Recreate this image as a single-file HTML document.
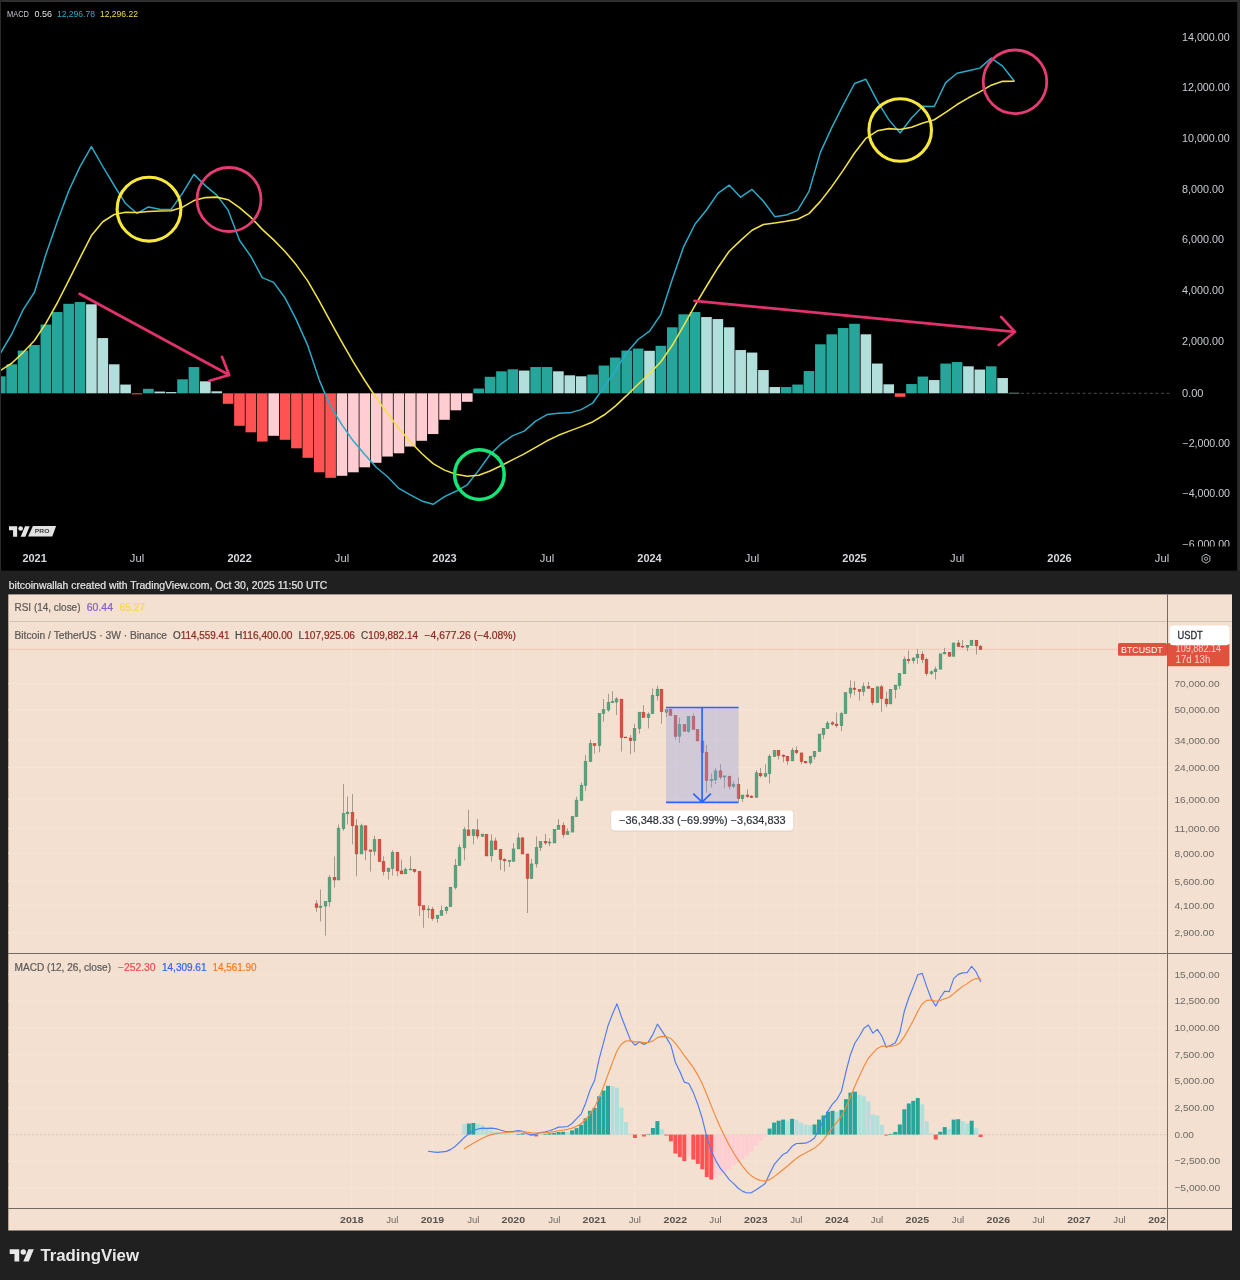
<!DOCTYPE html>
<html><head><meta charset="utf-8"><title>MACD BTC chart</title><style>html,body{margin:0;padding:0;background:#202020}svg{display:block}</style></head><body>
<svg width="1240" height="1280" viewBox="0 0 1240 1280" font-family="'Liberation Sans', sans-serif">
<rect width="1240" height="1280" fill="#202020"/>
<rect x="0" y="0" width="1240" height="2" fill="#2f2f2f"/>
<rect x="1237" y="0" width="3" height="571" fill="#2c2c2c"/>
<rect x="0" y="0" width="1.2" height="571" fill="#2a2a2a"/>
<rect x="1" y="2" width="1236.2" height="568.7" fill="#000"/>
<clipPath id="ct"><rect x="1" y="2" width="1236" height="568.7"/></clipPath>
<g clip-path="url(#ct)">
<rect x="-5.03" y="376.30" width="10.63" height="17.00" fill="#26a69a"/>
<rect x="6.36" y="364.30" width="10.63" height="29.00" fill="#26a69a"/>
<rect x="17.75" y="350.55" width="10.63" height="42.75" fill="#26a69a"/>
<rect x="29.14" y="345.05" width="10.63" height="48.25" fill="#26a69a"/>
<rect x="40.54" y="324.55" width="10.63" height="68.75" fill="#26a69a"/>
<rect x="51.93" y="312.05" width="10.63" height="81.25" fill="#26a69a"/>
<rect x="63.32" y="303.80" width="10.63" height="89.50" fill="#26a69a"/>
<rect x="74.71" y="302.05" width="10.63" height="91.25" fill="#26a69a"/>
<rect x="86.09" y="304.30" width="10.63" height="89.00" fill="#b2dfdb"/>
<rect x="97.49" y="338.05" width="10.63" height="55.25" fill="#b2dfdb"/>
<rect x="108.88" y="364.30" width="10.63" height="29.00" fill="#b2dfdb"/>
<rect x="120.27" y="384.55" width="10.63" height="8.75" fill="#b2dfdb"/>
<rect x="131.66" y="393.30" width="10.63" height="1.00" fill="#ff5252"/>
<rect x="143.04" y="388.80" width="10.63" height="4.50" fill="#26a69a"/>
<rect x="154.44" y="391.55" width="10.63" height="1.75" fill="#b2dfdb"/>
<rect x="165.83" y="392.05" width="10.63" height="1.25" fill="#b2dfdb"/>
<rect x="177.22" y="379.30" width="10.63" height="14.00" fill="#26a69a"/>
<rect x="188.60" y="367.05" width="10.63" height="26.25" fill="#26a69a"/>
<rect x="200.00" y="381.30" width="10.63" height="12.00" fill="#b2dfdb"/>
<rect x="211.39" y="391.30" width="10.63" height="2.00" fill="#b2dfdb"/>
<rect x="222.78" y="393.30" width="10.63" height="10.50" fill="#ff5252"/>
<rect x="234.16" y="393.30" width="10.63" height="32.50" fill="#ff5252"/>
<rect x="245.56" y="393.30" width="10.63" height="39.00" fill="#ff5252"/>
<rect x="256.95" y="393.30" width="10.63" height="48.25" fill="#ff5252"/>
<rect x="268.34" y="393.30" width="10.63" height="42.50" fill="#ffcdd2"/>
<rect x="279.73" y="393.30" width="10.63" height="46.50" fill="#ff5252"/>
<rect x="291.12" y="393.30" width="10.63" height="55.00" fill="#ff5252"/>
<rect x="302.51" y="393.30" width="10.63" height="64.50" fill="#ff5252"/>
<rect x="313.90" y="393.30" width="10.63" height="79.00" fill="#ff5252"/>
<rect x="325.29" y="393.30" width="10.63" height="84.50" fill="#ff5252"/>
<rect x="336.68" y="393.30" width="10.63" height="82.50" fill="#ffcdd2"/>
<rect x="348.07" y="393.30" width="10.63" height="79.00" fill="#ffcdd2"/>
<rect x="359.46" y="393.30" width="10.63" height="74.00" fill="#ffcdd2"/>
<rect x="370.85" y="393.30" width="10.63" height="69.50" fill="#ffcdd2"/>
<rect x="382.24" y="393.30" width="10.63" height="63.25" fill="#ffcdd2"/>
<rect x="393.63" y="393.30" width="10.63" height="60.00" fill="#ffcdd2"/>
<rect x="405.02" y="393.30" width="10.63" height="53.25" fill="#ffcdd2"/>
<rect x="416.41" y="393.30" width="10.63" height="47.50" fill="#ffcdd2"/>
<rect x="427.80" y="393.30" width="10.63" height="40.75" fill="#ffcdd2"/>
<rect x="439.19" y="393.30" width="10.63" height="26.50" fill="#ffcdd2"/>
<rect x="450.58" y="393.30" width="10.63" height="17.00" fill="#ffcdd2"/>
<rect x="461.97" y="393.30" width="10.63" height="8.50" fill="#ffcdd2"/>
<rect x="473.36" y="388.55" width="10.63" height="4.75" fill="#26a69a"/>
<rect x="484.75" y="376.80" width="10.63" height="16.50" fill="#26a69a"/>
<rect x="496.14" y="371.30" width="10.63" height="22.00" fill="#26a69a"/>
<rect x="507.53" y="369.30" width="10.63" height="24.00" fill="#26a69a"/>
<rect x="518.91" y="370.55" width="10.63" height="22.75" fill="#b2dfdb"/>
<rect x="530.30" y="367.05" width="10.63" height="26.25" fill="#26a69a"/>
<rect x="541.69" y="367.05" width="10.63" height="26.25" fill="#26a69a"/>
<rect x="553.08" y="371.30" width="10.63" height="22.00" fill="#b2dfdb"/>
<rect x="564.47" y="375.30" width="10.63" height="18.00" fill="#b2dfdb"/>
<rect x="575.86" y="376.30" width="10.63" height="17.00" fill="#b2dfdb"/>
<rect x="587.25" y="374.55" width="10.63" height="18.75" fill="#26a69a"/>
<rect x="598.64" y="365.55" width="10.63" height="27.75" fill="#26a69a"/>
<rect x="610.03" y="357.55" width="10.63" height="35.75" fill="#26a69a"/>
<rect x="621.42" y="350.55" width="10.63" height="42.75" fill="#26a69a"/>
<rect x="632.81" y="348.55" width="10.63" height="44.75" fill="#26a69a"/>
<rect x="644.20" y="350.80" width="10.63" height="42.50" fill="#b2dfdb"/>
<rect x="655.59" y="345.80" width="10.63" height="47.50" fill="#26a69a"/>
<rect x="666.98" y="327.30" width="10.63" height="66.00" fill="#26a69a"/>
<rect x="678.38" y="314.30" width="10.63" height="79.00" fill="#26a69a"/>
<rect x="689.76" y="312.05" width="10.63" height="81.25" fill="#26a69a"/>
<rect x="701.15" y="317.05" width="10.63" height="76.25" fill="#b2dfdb"/>
<rect x="712.54" y="319.05" width="10.63" height="74.25" fill="#b2dfdb"/>
<rect x="723.93" y="327.30" width="10.63" height="66.00" fill="#b2dfdb"/>
<rect x="735.32" y="350.05" width="10.63" height="43.25" fill="#b2dfdb"/>
<rect x="746.71" y="352.55" width="10.63" height="40.75" fill="#b2dfdb"/>
<rect x="758.10" y="370.05" width="10.63" height="23.25" fill="#b2dfdb"/>
<rect x="769.49" y="387.05" width="10.63" height="6.25" fill="#b2dfdb"/>
<rect x="780.88" y="387.05" width="10.63" height="6.25" fill="#26a69a"/>
<rect x="792.27" y="384.55" width="10.63" height="8.75" fill="#26a69a"/>
<rect x="803.66" y="371.05" width="10.63" height="22.25" fill="#26a69a"/>
<rect x="815.05" y="344.30" width="10.63" height="49.00" fill="#26a69a"/>
<rect x="826.44" y="334.30" width="10.63" height="59.00" fill="#26a69a"/>
<rect x="837.83" y="328.05" width="10.63" height="65.25" fill="#26a69a"/>
<rect x="849.22" y="323.80" width="10.63" height="69.50" fill="#26a69a"/>
<rect x="860.62" y="334.30" width="10.63" height="59.00" fill="#b2dfdb"/>
<rect x="872.00" y="363.55" width="10.63" height="29.75" fill="#b2dfdb"/>
<rect x="883.39" y="384.30" width="10.63" height="9.00" fill="#b2dfdb"/>
<rect x="894.78" y="393.30" width="10.63" height="3.50" fill="#ff5252"/>
<rect x="906.17" y="384.05" width="10.63" height="9.25" fill="#26a69a"/>
<rect x="917.56" y="376.55" width="10.63" height="16.75" fill="#26a69a"/>
<rect x="928.95" y="380.05" width="10.63" height="13.25" fill="#b2dfdb"/>
<rect x="940.34" y="363.55" width="10.63" height="29.75" fill="#26a69a"/>
<rect x="951.73" y="362.05" width="10.63" height="31.25" fill="#26a69a"/>
<rect x="963.12" y="366.30" width="10.63" height="27.00" fill="#b2dfdb"/>
<rect x="974.51" y="369.55" width="10.63" height="23.75" fill="#b2dfdb"/>
<rect x="985.90" y="366.30" width="10.63" height="27.00" fill="#26a69a"/>
<rect x="997.29" y="378.05" width="10.63" height="15.25" fill="#b2dfdb"/>
<rect x="1008.68" y="392.80" width="10.63" height="0.60" fill="#b2dfdb"/>
<line x1="1021" y1="393.3" x2="1172" y2="393.3" stroke="#4a4a4a" stroke-width="1" stroke-dasharray="3 2.6"/>
<polyline points="0.29,353.50 11.68,334.25 23.07,309.81 34.46,292.25 45.85,254.56 57.24,221.75 68.63,191.12 80.02,166.56 91.41,146.56 102.80,166.50 114.19,185.50 125.58,203.56 136.97,213.56 148.36,206.94 159.75,209.25 171.14,209.44 182.53,193.19 193.92,174.38 205.31,185.62 216.70,195.12 228.09,210.17 239.48,240.21 250.87,256.38 262.26,277.61 273.65,282.40 285.04,297.95 296.43,320.11 307.82,345.66 319.21,379.83 330.60,406.37 341.99,424.91 353.38,441.08 364.77,454.50 376.16,467.29 387.55,476.77 398.94,488.44 410.33,494.92 421.72,500.96 433.11,504.32 444.50,496.61 455.89,491.28 467.28,484.82 478.67,470.40 490.06,454.55 501.45,443.56 512.84,435.58 524.23,431.16 535.62,421.11 547.01,414.57 558.40,413.33 569.79,412.85 581.18,409.62 592.57,403.20 603.96,387.27 615.35,370.35 626.74,352.68 638.13,339.51 649.52,331.15 660.91,314.30 672.30,279.31 683.69,246.58 695.08,224.03 706.47,209.99 717.86,193.44 729.25,185.21 740.64,197.16 752.03,189.49 763.42,201.20 774.81,216.65 786.20,215.10 797.59,210.43 808.98,191.39 820.37,152.40 831.76,127.67 843.15,105.12 854.54,83.52 865.93,79.28 877.32,101.11 888.71,119.63 900.10,133.02 911.49,117.98 922.88,106.30 934.27,106.51 945.66,82.59 957.05,73.29 968.44,70.81 979.83,68.14 991.22,58.15 1002.61,66.11 1014.00,80.75" fill="none" stroke="#2aaac8" stroke-width="1.5" stroke-linejoin="round" stroke-linecap="round" />
<polyline points="0.29,370.50 11.68,363.25 23.07,352.56 34.46,340.50 45.85,323.31 57.24,303.00 68.63,280.62 80.02,257.81 91.41,235.56 102.80,221.75 114.19,214.50 125.58,212.31 136.97,212.56 148.36,211.44 159.75,211.00 171.14,210.69 182.53,207.19 193.92,200.62 205.31,197.62 216.70,197.12 228.09,199.67 239.48,207.71 250.87,217.38 262.26,229.36 273.65,239.90 285.04,251.45 296.43,265.11 307.82,281.16 319.21,300.83 330.60,321.87 341.99,342.41 353.38,362.08 364.77,380.50 376.16,397.79 387.55,413.52 398.94,428.44 410.33,441.67 421.72,453.46 433.11,463.57 444.50,470.11 455.89,474.28 467.28,476.32 478.67,475.15 490.06,471.05 501.45,465.56 512.84,459.58 524.23,453.91 535.62,447.36 547.01,440.82 558.40,435.33 569.79,430.85 581.18,426.62 592.57,421.95 603.96,415.02 615.35,406.10 626.74,395.43 638.13,384.26 649.52,373.65 660.91,361.80 672.30,345.31 683.69,325.58 695.08,305.28 706.47,286.24 717.86,267.69 729.25,251.21 740.64,240.41 752.03,230.24 763.42,224.45 774.81,222.90 786.20,221.35 797.59,219.18 808.98,213.64 820.37,201.40 831.76,186.67 843.15,170.38 854.54,153.02 865.93,138.28 877.32,130.86 888.71,128.63 900.10,129.52 911.49,127.23 922.88,123.05 934.27,119.76 945.66,112.34 957.05,104.54 968.44,97.81 979.83,91.89 991.22,85.15 1002.61,81.36 1014.00,81.25" fill="none" stroke="#f0e146" stroke-width="1.55" stroke-linejoin="round" stroke-linecap="round" />
<circle cx="149" cy="209.2" r="31.9" fill="none" stroke="#f8e83c" stroke-width="3.1"/>
<circle cx="229" cy="199.5" r="32" fill="none" stroke="#e43c73" stroke-width="2.8"/>
<circle cx="479.4" cy="474.6" r="24.8" fill="none" stroke="#14e678" stroke-width="3.5"/>
<circle cx="900.2" cy="130" r="31.3" fill="none" stroke="#f8e83c" stroke-width="3.1"/>
<circle cx="1015" cy="81.8" r="31.8" fill="none" stroke="#e43c73" stroke-width="2.8"/>
<g fill="none" stroke="#e1326e" stroke-width="2.7" stroke-linecap="round" stroke-linejoin="round">
<path d="M79.5 293.8 L229.2 375 M222 356.8 L229.2 375 L209.5 380.8"/>
<path d="M694.5 300.8 L1015 331.8 M1001.2 317 L1015 331.8 L998.8 345"/>
</g>
</g>
<text x="7.00" y="16.60" font-size="8.6" fill="#c9ccd3" textLength="22.0" lengthAdjust="spacingAndGlyphs" >MACD</text>
<text x="34.50" y="16.60" font-size="8.6" fill="#dfe3e6" textLength="17.5" lengthAdjust="spacingAndGlyphs" >0.56</text>
<text x="57.00" y="16.60" font-size="8.6" fill="#2aaecb" textLength="38.0" lengthAdjust="spacingAndGlyphs" >12,296.78</text>
<text x="100.00" y="16.60" font-size="8.6" fill="#f2de4a" textLength="38.0" lengthAdjust="spacingAndGlyphs" >12,296.22</text>
<text x="1182.00" y="40.70" font-size="10" fill="#c9ccd3" textLength="47.7" lengthAdjust="spacingAndGlyphs" >14,000.00</text>
<text x="1182.00" y="91.40" font-size="10" fill="#c9ccd3" textLength="47.7" lengthAdjust="spacingAndGlyphs" >12,000.00</text>
<text x="1182.00" y="142.40" font-size="10" fill="#c9ccd3" textLength="47.7" lengthAdjust="spacingAndGlyphs" >10,000.00</text>
<text x="1182.00" y="192.80" font-size="10" fill="#c9ccd3" textLength="42.0" lengthAdjust="spacingAndGlyphs" >8,000.00</text>
<text x="1182.00" y="243.40" font-size="10" fill="#c9ccd3" textLength="42.0" lengthAdjust="spacingAndGlyphs" >6,000.00</text>
<text x="1182.00" y="294.20" font-size="10" fill="#c9ccd3" textLength="42.0" lengthAdjust="spacingAndGlyphs" >4,000.00</text>
<text x="1182.00" y="345.00" font-size="10" fill="#c9ccd3" textLength="42.0" lengthAdjust="spacingAndGlyphs" >2,000.00</text>
<text x="1182.00" y="396.90" font-size="10" fill="#c9ccd3" textLength="21.5" lengthAdjust="spacingAndGlyphs" >0.00</text>
<text x="1182.50" y="446.60" font-size="10" fill="#c9ccd3" textLength="47.5" lengthAdjust="spacingAndGlyphs" >−2,000.00</text>
<text x="1182.50" y="496.90" font-size="10" fill="#c9ccd3" textLength="47.5" lengthAdjust="spacingAndGlyphs" >−4,000.00</text>
<clipPath id="c6"><rect x="1170" y="530" width="66" height="16.6"/></clipPath>
<g clip-path="url(#c6)">
<text x="1182.50" y="547.50" font-size="10" fill="#c9ccd3" textLength="47.5" lengthAdjust="spacingAndGlyphs" >−6,000.00</text>
</g>
<text x="34.60" y="561.90" font-size="10.0" fill="#d6d8de" font-weight="bold" text-anchor="middle" textLength="24.4" lengthAdjust="spacingAndGlyphs" >2021</text>
<text x="137.00" y="561.80" font-size="10.4" fill="#c9ccd3" text-anchor="middle" textLength="14.3" lengthAdjust="spacingAndGlyphs" >Jul</text>
<text x="239.60" y="561.90" font-size="10.0" fill="#d6d8de" font-weight="bold" text-anchor="middle" textLength="24.4" lengthAdjust="spacingAndGlyphs" >2022</text>
<text x="342.00" y="561.80" font-size="10.4" fill="#c9ccd3" text-anchor="middle" textLength="14.3" lengthAdjust="spacingAndGlyphs" >Jul</text>
<text x="444.50" y="561.90" font-size="10.0" fill="#d6d8de" font-weight="bold" text-anchor="middle" textLength="24.4" lengthAdjust="spacingAndGlyphs" >2023</text>
<text x="547.00" y="561.80" font-size="10.4" fill="#c9ccd3" text-anchor="middle" textLength="14.3" lengthAdjust="spacingAndGlyphs" >Jul</text>
<text x="649.50" y="561.90" font-size="10.0" fill="#d6d8de" font-weight="bold" text-anchor="middle" textLength="24.4" lengthAdjust="spacingAndGlyphs" >2024</text>
<text x="752.00" y="561.80" font-size="10.4" fill="#c9ccd3" text-anchor="middle" textLength="14.3" lengthAdjust="spacingAndGlyphs" >Jul</text>
<text x="854.50" y="561.90" font-size="10.0" fill="#d6d8de" font-weight="bold" text-anchor="middle" textLength="24.4" lengthAdjust="spacingAndGlyphs" >2025</text>
<text x="957.20" y="561.80" font-size="10.4" fill="#c9ccd3" text-anchor="middle" textLength="14.3" lengthAdjust="spacingAndGlyphs" >Jul</text>
<text x="1059.50" y="561.90" font-size="10.0" fill="#d6d8de" font-weight="bold" text-anchor="middle" textLength="24.4" lengthAdjust="spacingAndGlyphs" >2026</text>
<text x="1162.00" y="561.80" font-size="10.4" fill="#c9ccd3" text-anchor="middle" textLength="14.3" lengthAdjust="spacingAndGlyphs" >Jul</text>
<g fill="none" stroke="#b4b7be" stroke-width="0.95"><path d="M1206 554.2 L1209.9 556.45 L1209.9 560.95 L1206 563.2 L1202.1 560.95 L1202.1 556.45 Z" stroke-linejoin="round"/><circle cx="1206" cy="558.7" r="1.6"/></g>
<g transform="translate(9,523.8) scale(0.583)" fill="#e6e6e6"><path d="M14 22H7V11H0V4h14v18zM28 22h-8l7.5-18h8L28 22z"/><circle cx="20" cy="8" r="4"/></g>
<path d="M32.9 526.1 H56.1 L52.3 536.6 H28.1 Z" fill="#e1e1e1"/>
<text x="34.80" y="533.45" font-size="5.9" fill="#3c3c3c" font-weight="bold" textLength="14.6" lengthAdjust="spacingAndGlyphs" >PRO</text>
<text x="8.80" y="588.60" font-size="10.2" fill="#e6e6e6" textLength="318.5" lengthAdjust="spacingAndGlyphs" stroke="#e6e6e6" stroke-width="0.2">bitcoinwallah created with TradingView.com, Oct 30, 2025 11:50 UTC</text>
<rect x="8.3" y="594.4" width="1223.7" height="636.1" fill="#f3e0d0"/>
<line x1="351.8" y1="622" x2="351.8" y2="1208" stroke="#f5e4d6" stroke-width="1"/>
<line x1="392.3" y1="622" x2="392.3" y2="1208" stroke="#f5e4d6" stroke-width="1"/>
<line x1="432.5" y1="622" x2="432.5" y2="1208" stroke="#f5e4d6" stroke-width="1"/>
<line x1="473.3" y1="622" x2="473.3" y2="1208" stroke="#f5e4d6" stroke-width="1"/>
<line x1="513.3" y1="622" x2="513.3" y2="1208" stroke="#f5e4d6" stroke-width="1"/>
<line x1="554.3" y1="622" x2="554.3" y2="1208" stroke="#f5e4d6" stroke-width="1"/>
<line x1="594.3" y1="622" x2="594.3" y2="1208" stroke="#f5e4d6" stroke-width="1"/>
<line x1="634.8" y1="622" x2="634.8" y2="1208" stroke="#f5e4d6" stroke-width="1"/>
<line x1="675.3" y1="622" x2="675.3" y2="1208" stroke="#f5e4d6" stroke-width="1"/>
<line x1="715.5" y1="622" x2="715.5" y2="1208" stroke="#f5e4d6" stroke-width="1"/>
<line x1="755.8" y1="622" x2="755.8" y2="1208" stroke="#f5e4d6" stroke-width="1"/>
<line x1="796.3" y1="622" x2="796.3" y2="1208" stroke="#f5e4d6" stroke-width="1"/>
<line x1="836.8" y1="622" x2="836.8" y2="1208" stroke="#f5e4d6" stroke-width="1"/>
<line x1="877" y1="622" x2="877" y2="1208" stroke="#f5e4d6" stroke-width="1"/>
<line x1="917.3" y1="622" x2="917.3" y2="1208" stroke="#f5e4d6" stroke-width="1"/>
<line x1="958" y1="622" x2="958" y2="1208" stroke="#f5e4d6" stroke-width="1"/>
<line x1="998.3" y1="622" x2="998.3" y2="1208" stroke="#f5e4d6" stroke-width="1"/>
<line x1="1038.5" y1="622" x2="1038.5" y2="1208" stroke="#f5e4d6" stroke-width="1"/>
<line x1="1079" y1="622" x2="1079" y2="1208" stroke="#f5e4d6" stroke-width="1"/>
<line x1="1119.5" y1="622" x2="1119.5" y2="1208" stroke="#f5e4d6" stroke-width="1"/>
<line x1="1159.5" y1="622" x2="1159.5" y2="1208" stroke="#f5e4d6" stroke-width="1"/>
<line x1="8.3" y1="683.7" x2="1167.5" y2="683.7" stroke="#f5e4d6" stroke-width="1"/>
<line x1="8.3" y1="710.0" x2="1167.5" y2="710.0" stroke="#f5e4d6" stroke-width="1"/>
<line x1="8.3" y1="740.2" x2="1167.5" y2="740.2" stroke="#f5e4d6" stroke-width="1"/>
<line x1="8.3" y1="767.4" x2="1167.5" y2="767.4" stroke="#f5e4d6" stroke-width="1"/>
<line x1="8.3" y1="799.1" x2="1167.5" y2="799.1" stroke="#f5e4d6" stroke-width="1"/>
<line x1="8.3" y1="828.4" x2="1167.5" y2="828.4" stroke="#f5e4d6" stroke-width="1"/>
<line x1="8.3" y1="853.3" x2="1167.5" y2="853.3" stroke="#f5e4d6" stroke-width="1"/>
<line x1="8.3" y1="881.2" x2="1167.5" y2="881.2" stroke="#f5e4d6" stroke-width="1"/>
<line x1="8.3" y1="905.6" x2="1167.5" y2="905.6" stroke="#f5e4d6" stroke-width="1"/>
<line x1="8.3" y1="932.7" x2="1167.5" y2="932.7" stroke="#f5e4d6" stroke-width="1"/>
<line x1="8.3" y1="974.4" x2="1167.5" y2="974.4" stroke="#f5e4d6" stroke-width="1"/>
<line x1="8.3" y1="1001.1" x2="1167.5" y2="1001.1" stroke="#f5e4d6" stroke-width="1"/>
<line x1="8.3" y1="1027.8" x2="1167.5" y2="1027.8" stroke="#f5e4d6" stroke-width="1"/>
<line x1="8.3" y1="1054.5" x2="1167.5" y2="1054.5" stroke="#f5e4d6" stroke-width="1"/>
<line x1="8.3" y1="1081.2" x2="1167.5" y2="1081.2" stroke="#f5e4d6" stroke-width="1"/>
<line x1="8.3" y1="1107.9" x2="1167.5" y2="1107.9" stroke="#f5e4d6" stroke-width="1"/>
<line x1="8.3" y1="1161.3" x2="1167.5" y2="1161.3" stroke="#f5e4d6" stroke-width="1"/>
<line x1="8.3" y1="1188.0" x2="1167.5" y2="1188.0" stroke="#f5e4d6" stroke-width="1"/>
<line x1="8.3" y1="621.5" x2="1232" y2="621.5" stroke="#c9bfb7" stroke-width="0.9"/>
<line x1="8.3" y1="953.5" x2="1232" y2="953.5" stroke="#736a64" stroke-width="1"/>
<line x1="8.3" y1="1208.5" x2="1232" y2="1208.5" stroke="#736a64" stroke-width="1"/>
<line x1="1167.5" y1="594.4" x2="1167.5" y2="1230.5" stroke="#736a64" stroke-width="1"/>
<line x1="8.3" y1="649.3" x2="1118" y2="649.3" stroke="#e8796a" stroke-width="0.7" stroke-opacity="0.75" stroke-dasharray="1 1"/>
<line x1="316.50" y1="900.15" x2="316.50" y2="911.83" stroke="#5c5853" stroke-width="0.62" stroke-opacity="0.85"/>
<rect x="315.10" y="903.86" width="2.8" height="3.59" fill="#d8503f" stroke="#b23a2c" stroke-width="0.45"/>
<line x1="320.50" y1="889.52" x2="320.50" y2="921.39" stroke="#5c5853" stroke-width="0.62" stroke-opacity="0.85"/>
<rect x="319.10" y="906.12" width="2.8" height="1.33" fill="#58a37f" stroke="#3d8a66" stroke-width="0.45"/>
<line x1="325.50" y1="901.47" x2="325.50" y2="935.74" stroke="#5c5853" stroke-width="0.62" stroke-opacity="0.85"/>
<rect x="324.10" y="901.47" width="2.8" height="4.65" fill="#58a37f" stroke="#3d8a66" stroke-width="0.45"/>
<line x1="329.50" y1="874.91" x2="329.50" y2="906.79" stroke="#5c5853" stroke-width="0.62" stroke-opacity="0.85"/>
<rect x="328.10" y="877.57" width="2.8" height="24.30" fill="#58a37f" stroke="#3d8a66" stroke-width="0.45"/>
<line x1="334.50" y1="856.32" x2="334.50" y2="887.53" stroke="#5c5853" stroke-width="0.62" stroke-opacity="0.85"/>
<rect x="333.10" y="877.30" width="2.8" height="2.66" fill="#d8503f" stroke="#b23a2c" stroke-width="0.45"/>
<line x1="338.50" y1="824.45" x2="338.50" y2="879.96" stroke="#5c5853" stroke-width="0.62" stroke-opacity="0.85"/>
<rect x="337.10" y="828.17" width="2.8" height="51.79" fill="#58a37f" stroke="#3d8a66" stroke-width="0.45"/>
<line x1="343.50" y1="783.94" x2="343.50" y2="830.82" stroke="#5c5853" stroke-width="0.62" stroke-opacity="0.85"/>
<rect x="342.10" y="813.56" width="2.8" height="15.14" fill="#58a37f" stroke="#3d8a66" stroke-width="0.45"/>
<line x1="347.50" y1="796.56" x2="347.50" y2="824.45" stroke="#5c5853" stroke-width="0.62" stroke-opacity="0.85"/>
<rect x="346.10" y="812.10" width="2.8" height="1.73" fill="#58a37f" stroke="#3d8a66" stroke-width="0.45"/>
<line x1="352.50" y1="793.90" x2="352.50" y2="844.37" stroke="#5c5853" stroke-width="0.62" stroke-opacity="0.85"/>
<rect x="351.10" y="812.23" width="2.8" height="13.55" fill="#d8503f" stroke="#b23a2c" stroke-width="0.45"/>
<line x1="356.50" y1="819.14" x2="356.50" y2="876.24" stroke="#5c5853" stroke-width="0.62" stroke-opacity="0.85"/>
<rect x="355.10" y="825.78" width="2.8" height="28.15" fill="#d8503f" stroke="#b23a2c" stroke-width="0.45"/>
<line x1="361.50" y1="823.78" x2="361.50" y2="853.93" stroke="#5c5853" stroke-width="0.62" stroke-opacity="0.85"/>
<rect x="360.10" y="825.78" width="2.8" height="28.15" fill="#58a37f" stroke="#3d8a66" stroke-width="0.45"/>
<line x1="365.50" y1="825.78" x2="365.50" y2="860.31" stroke="#5c5853" stroke-width="0.62" stroke-opacity="0.85"/>
<rect x="364.10" y="825.78" width="2.8" height="24.30" fill="#d8503f" stroke="#b23a2c" stroke-width="0.45"/>
<line x1="370.50" y1="849.95" x2="370.50" y2="871.59" stroke="#5c5853" stroke-width="0.62" stroke-opacity="0.85"/>
<rect x="369.10" y="849.95" width="2.8" height="1.33" fill="#d8503f" stroke="#b23a2c" stroke-width="0.45"/>
<line x1="374.50" y1="835.74" x2="374.50" y2="855.66" stroke="#5c5853" stroke-width="0.62" stroke-opacity="0.85"/>
<rect x="373.10" y="839.72" width="2.8" height="11.55" fill="#58a37f" stroke="#3d8a66" stroke-width="0.45"/>
<line x1="379.50" y1="839.32" x2="379.50" y2="861.63" stroke="#5c5853" stroke-width="0.62" stroke-opacity="0.85"/>
<rect x="378.10" y="839.32" width="2.8" height="22.31" fill="#d8503f" stroke="#b23a2c" stroke-width="0.45"/>
<line x1="383.50" y1="856.32" x2="383.50" y2="875.58" stroke="#5c5853" stroke-width="0.62" stroke-opacity="0.85"/>
<rect x="382.10" y="861.37" width="2.8" height="10.23" fill="#d8503f" stroke="#b23a2c" stroke-width="0.45"/>
<line x1="388.50" y1="867.61" x2="388.50" y2="879.56" stroke="#5c5853" stroke-width="0.62" stroke-opacity="0.85"/>
<rect x="387.10" y="868.27" width="2.8" height="3.32" fill="#58a37f" stroke="#3d8a66" stroke-width="0.45"/>
<line x1="392.50" y1="850.08" x2="392.50" y2="875.58" stroke="#5c5853" stroke-width="0.62" stroke-opacity="0.85"/>
<rect x="391.10" y="852.34" width="2.8" height="16.20" fill="#58a37f" stroke="#3d8a66" stroke-width="0.45"/>
<line x1="397.50" y1="852.34" x2="397.50" y2="876.24" stroke="#5c5853" stroke-width="0.62" stroke-opacity="0.85"/>
<rect x="396.10" y="852.34" width="2.8" height="18.59" fill="#d8503f" stroke="#b23a2c" stroke-width="0.45"/>
<line x1="401.50" y1="859.64" x2="401.50" y2="874.25" stroke="#5c5853" stroke-width="0.62" stroke-opacity="0.85"/>
<rect x="400.10" y="870.93" width="2.8" height="2.92" fill="#d8503f" stroke="#b23a2c" stroke-width="0.45"/>
<line x1="405.50" y1="867.61" x2="405.50" y2="873.85" stroke="#5c5853" stroke-width="0.62" stroke-opacity="0.85"/>
<rect x="404.10" y="869.20" width="2.8" height="4.65" fill="#58a37f" stroke="#3d8a66" stroke-width="0.45"/>
<line x1="410.50" y1="856.32" x2="410.50" y2="869.60" stroke="#5c5853" stroke-width="0.62" stroke-opacity="0.85"/>
<rect x="409.10" y="869.07" width="2.8" height="0.90" fill="#58a37f" stroke="#3d8a66" stroke-width="0.45"/>
<line x1="414.50" y1="868.94" x2="414.50" y2="872.92" stroke="#5c5853" stroke-width="0.62" stroke-opacity="0.85"/>
<rect x="413.10" y="869.34" width="2.8" height="2.26" fill="#d8503f" stroke="#b23a2c" stroke-width="0.45"/>
<line x1="419.50" y1="871.33" x2="419.50" y2="916.08" stroke="#5c5853" stroke-width="0.62" stroke-opacity="0.85"/>
<rect x="418.10" y="871.33" width="2.8" height="34.40" fill="#d8503f" stroke="#b23a2c" stroke-width="0.45"/>
<line x1="423.50" y1="905.72" x2="423.50" y2="927.77" stroke="#5c5853" stroke-width="0.62" stroke-opacity="0.85"/>
<rect x="422.10" y="905.72" width="2.8" height="4.12" fill="#d8503f" stroke="#b23a2c" stroke-width="0.45"/>
<line x1="428.50" y1="905.46" x2="428.50" y2="918.07" stroke="#5c5853" stroke-width="0.62" stroke-opacity="0.85"/>
<rect x="427.10" y="909.04" width="2.8" height="0.90" fill="#58a37f" stroke="#3d8a66" stroke-width="0.45"/>
<line x1="432.50" y1="906.79" x2="432.50" y2="920.73" stroke="#5c5853" stroke-width="0.62" stroke-opacity="0.85"/>
<rect x="431.10" y="909.18" width="2.8" height="9.30" fill="#d8503f" stroke="#b23a2c" stroke-width="0.45"/>
<line x1="437.50" y1="915.15" x2="437.50" y2="922.72" stroke="#5c5853" stroke-width="0.62" stroke-opacity="0.85"/>
<rect x="436.10" y="915.15" width="2.8" height="3.32" fill="#58a37f" stroke="#3d8a66" stroke-width="0.45"/>
<line x1="441.50" y1="905.46" x2="441.50" y2="915.42" stroke="#5c5853" stroke-width="0.62" stroke-opacity="0.85"/>
<rect x="440.10" y="910.50" width="2.8" height="4.91" fill="#58a37f" stroke="#3d8a66" stroke-width="0.45"/>
<line x1="446.50" y1="906.12" x2="446.50" y2="914.09" stroke="#5c5853" stroke-width="0.62" stroke-opacity="0.85"/>
<rect x="445.10" y="907.18" width="2.8" height="3.59" fill="#58a37f" stroke="#3d8a66" stroke-width="0.45"/>
<line x1="450.50" y1="887.18" x2="450.50" y2="906.71" stroke="#5c5853" stroke-width="0.62" stroke-opacity="0.85"/>
<rect x="449.10" y="887.18" width="2.8" height="19.52" fill="#58a37f" stroke="#3d8a66" stroke-width="0.45"/>
<line x1="455.50" y1="858.90" x2="455.50" y2="889.44" stroke="#5c5853" stroke-width="0.62" stroke-opacity="0.85"/>
<rect x="454.10" y="865.27" width="2.8" height="22.18" fill="#58a37f" stroke="#3d8a66" stroke-width="0.45"/>
<line x1="459.50" y1="844.29" x2="459.50" y2="865.54" stroke="#5c5853" stroke-width="0.62" stroke-opacity="0.85"/>
<rect x="458.10" y="847.61" width="2.8" height="17.93" fill="#58a37f" stroke="#3d8a66" stroke-width="0.45"/>
<line x1="464.50" y1="826.76" x2="464.50" y2="860.23" stroke="#5c5853" stroke-width="0.62" stroke-opacity="0.85"/>
<rect x="463.10" y="829.68" width="2.8" height="18.19" fill="#58a37f" stroke="#3d8a66" stroke-width="0.45"/>
<line x1="468.50" y1="809.76" x2="468.50" y2="835.66" stroke="#5c5853" stroke-width="0.62" stroke-opacity="0.85"/>
<rect x="467.10" y="829.95" width="2.8" height="5.71" fill="#d8503f" stroke="#b23a2c" stroke-width="0.45"/>
<line x1="473.50" y1="829.68" x2="473.50" y2="844.29" stroke="#5c5853" stroke-width="0.62" stroke-opacity="0.85"/>
<rect x="472.10" y="829.68" width="2.8" height="5.98" fill="#58a37f" stroke="#3d8a66" stroke-width="0.45"/>
<line x1="477.50" y1="819.06" x2="477.50" y2="838.98" stroke="#5c5853" stroke-width="0.62" stroke-opacity="0.85"/>
<rect x="476.10" y="829.95" width="2.8" height="6.11" fill="#d8503f" stroke="#b23a2c" stroke-width="0.45"/>
<line x1="482.50" y1="834.06" x2="482.50" y2="836.99" stroke="#5c5853" stroke-width="0.62" stroke-opacity="0.85"/>
<rect x="481.10" y="834.06" width="2.8" height="2.26" fill="#58a37f" stroke="#3d8a66" stroke-width="0.45"/>
<line x1="486.50" y1="834.33" x2="486.50" y2="855.98" stroke="#5c5853" stroke-width="0.62" stroke-opacity="0.85"/>
<rect x="485.10" y="834.33" width="2.8" height="21.65" fill="#d8503f" stroke="#b23a2c" stroke-width="0.45"/>
<line x1="491.50" y1="834.33" x2="491.50" y2="861.55" stroke="#5c5853" stroke-width="0.62" stroke-opacity="0.85"/>
<rect x="490.10" y="840.97" width="2.8" height="14.87" fill="#58a37f" stroke="#3d8a66" stroke-width="0.45"/>
<line x1="495.50" y1="837.65" x2="495.50" y2="849.60" stroke="#5c5853" stroke-width="0.62" stroke-opacity="0.85"/>
<rect x="494.10" y="840.97" width="2.8" height="8.63" fill="#d8503f" stroke="#b23a2c" stroke-width="0.45"/>
<line x1="500.50" y1="849.34" x2="500.50" y2="870.19" stroke="#5c5853" stroke-width="0.62" stroke-opacity="0.85"/>
<rect x="499.10" y="849.34" width="2.8" height="10.23" fill="#d8503f" stroke="#b23a2c" stroke-width="0.45"/>
<line x1="504.50" y1="858.23" x2="504.50" y2="871.51" stroke="#5c5853" stroke-width="0.62" stroke-opacity="0.85"/>
<rect x="503.10" y="859.56" width="2.8" height="1.33" fill="#d8503f" stroke="#b23a2c" stroke-width="0.45"/>
<line x1="509.50" y1="859.96" x2="509.50" y2="866.87" stroke="#5c5853" stroke-width="0.62" stroke-opacity="0.85"/>
<rect x="508.10" y="860.62" width="2.8" height="0.90" fill="#58a37f" stroke="#3d8a66" stroke-width="0.45"/>
<line x1="513.50" y1="842.96" x2="513.50" y2="861.29" stroke="#5c5853" stroke-width="0.62" stroke-opacity="0.85"/>
<rect x="512.10" y="848.94" width="2.8" height="12.35" fill="#58a37f" stroke="#3d8a66" stroke-width="0.45"/>
<line x1="518.50" y1="833.00" x2="518.50" y2="848.94" stroke="#5c5853" stroke-width="0.62" stroke-opacity="0.85"/>
<rect x="517.10" y="837.92" width="2.8" height="11.02" fill="#58a37f" stroke="#3d8a66" stroke-width="0.45"/>
<line x1="522.50" y1="836.99" x2="522.50" y2="853.98" stroke="#5c5853" stroke-width="0.62" stroke-opacity="0.85"/>
<rect x="521.10" y="837.92" width="2.8" height="16.07" fill="#d8503f" stroke="#b23a2c" stroke-width="0.45"/>
<line x1="527.50" y1="853.98" x2="527.50" y2="913.08" stroke="#5c5853" stroke-width="0.62" stroke-opacity="0.85"/>
<rect x="526.10" y="853.98" width="2.8" height="24.57" fill="#d8503f" stroke="#b23a2c" stroke-width="0.45"/>
<line x1="531.50" y1="858.90" x2="531.50" y2="878.55" stroke="#5c5853" stroke-width="0.62" stroke-opacity="0.85"/>
<rect x="530.10" y="863.94" width="2.8" height="14.61" fill="#58a37f" stroke="#3d8a66" stroke-width="0.45"/>
<line x1="536.50" y1="836.32" x2="536.50" y2="867.53" stroke="#5c5853" stroke-width="0.62" stroke-opacity="0.85"/>
<rect x="535.10" y="847.61" width="2.8" height="16.33" fill="#58a37f" stroke="#3d8a66" stroke-width="0.45"/>
<line x1="540.50" y1="841.37" x2="540.50" y2="850.93" stroke="#5c5853" stroke-width="0.62" stroke-opacity="0.85"/>
<rect x="539.10" y="841.37" width="2.8" height="6.24" fill="#58a37f" stroke="#3d8a66" stroke-width="0.45"/>
<line x1="545.50" y1="833.93" x2="545.50" y2="844.95" stroke="#5c5853" stroke-width="0.62" stroke-opacity="0.85"/>
<rect x="544.10" y="841.37" width="2.8" height="1.59" fill="#d8503f" stroke="#b23a2c" stroke-width="0.45"/>
<line x1="549.50" y1="838.31" x2="549.50" y2="846.28" stroke="#5c5853" stroke-width="0.62" stroke-opacity="0.85"/>
<rect x="548.10" y="842.03" width="2.8" height="0.93" fill="#58a37f" stroke="#3d8a66" stroke-width="0.45"/>
<line x1="554.50" y1="829.28" x2="554.50" y2="842.96" stroke="#5c5853" stroke-width="0.62" stroke-opacity="0.85"/>
<rect x="553.10" y="829.28" width="2.8" height="13.68" fill="#58a37f" stroke="#3d8a66" stroke-width="0.45"/>
<line x1="558.50" y1="819.06" x2="558.50" y2="829.42" stroke="#5c5853" stroke-width="0.62" stroke-opacity="0.85"/>
<rect x="557.10" y="825.30" width="2.8" height="4.12" fill="#58a37f" stroke="#3d8a66" stroke-width="0.45"/>
<line x1="563.50" y1="822.38" x2="563.50" y2="837.65" stroke="#5c5853" stroke-width="0.62" stroke-opacity="0.85"/>
<rect x="562.10" y="825.30" width="2.8" height="9.30" fill="#d8503f" stroke="#b23a2c" stroke-width="0.45"/>
<line x1="567.50" y1="828.35" x2="567.50" y2="834.59" stroke="#5c5853" stroke-width="0.62" stroke-opacity="0.85"/>
<rect x="566.10" y="831.67" width="2.8" height="2.92" fill="#58a37f" stroke="#3d8a66" stroke-width="0.45"/>
<line x1="572.50" y1="816.40" x2="572.50" y2="832.07" stroke="#5c5853" stroke-width="0.62" stroke-opacity="0.85"/>
<rect x="571.10" y="816.40" width="2.8" height="15.67" fill="#58a37f" stroke="#3d8a66" stroke-width="0.45"/>
<line x1="576.50" y1="796.75" x2="576.50" y2="816.67" stroke="#5c5853" stroke-width="0.62" stroke-opacity="0.85"/>
<rect x="575.10" y="800.07" width="2.8" height="16.60" fill="#58a37f" stroke="#3d8a66" stroke-width="0.45"/>
<line x1="581.50" y1="782.54" x2="581.50" y2="800.46" stroke="#5c5853" stroke-width="0.62" stroke-opacity="0.85"/>
<rect x="580.10" y="785.19" width="2.8" height="15.27" fill="#58a37f" stroke="#3d8a66" stroke-width="0.45"/>
<line x1="585.50" y1="754.91" x2="585.50" y2="790.77" stroke="#5c5853" stroke-width="0.62" stroke-opacity="0.85"/>
<rect x="584.10" y="761.29" width="2.8" height="24.17" fill="#58a37f" stroke="#3d8a66" stroke-width="0.45"/>
<line x1="590.50" y1="739.64" x2="590.50" y2="761.55" stroke="#5c5853" stroke-width="0.62" stroke-opacity="0.85"/>
<rect x="589.10" y="743.36" width="2.8" height="18.19" fill="#58a37f" stroke="#3d8a66" stroke-width="0.45"/>
<line x1="594.50" y1="743.63" x2="594.50" y2="753.59" stroke="#5c5853" stroke-width="0.62" stroke-opacity="0.85"/>
<rect x="593.10" y="743.63" width="2.8" height="1.99" fill="#d8503f" stroke="#b23a2c" stroke-width="0.45"/>
<line x1="599.50" y1="713.48" x2="599.50" y2="752.26" stroke="#5c5853" stroke-width="0.62" stroke-opacity="0.85"/>
<rect x="598.10" y="713.48" width="2.8" height="32.14" fill="#58a37f" stroke="#3d8a66" stroke-width="0.45"/>
<line x1="603.50" y1="699.14" x2="603.50" y2="721.71" stroke="#5c5853" stroke-width="0.62" stroke-opacity="0.85"/>
<rect x="602.10" y="709.76" width="2.8" height="3.72" fill="#58a37f" stroke="#3d8a66" stroke-width="0.45"/>
<line x1="608.50" y1="693.82" x2="608.50" y2="711.75" stroke="#5c5853" stroke-width="0.62" stroke-opacity="0.85"/>
<rect x="607.10" y="702.46" width="2.8" height="7.57" fill="#58a37f" stroke="#3d8a66" stroke-width="0.45"/>
<line x1="612.50" y1="691.17" x2="612.50" y2="703.12" stroke="#5c5853" stroke-width="0.62" stroke-opacity="0.85"/>
<rect x="611.10" y="701.53" width="2.8" height="1.20" fill="#58a37f" stroke="#3d8a66" stroke-width="0.45"/>
<line x1="616.50" y1="697.14" x2="616.50" y2="715.07" stroke="#5c5853" stroke-width="0.62" stroke-opacity="0.85"/>
<rect x="615.10" y="698.87" width="2.8" height="3.19" fill="#58a37f" stroke="#3d8a66" stroke-width="0.45"/>
<line x1="621.50" y1="699.14" x2="621.50" y2="751.59" stroke="#5c5853" stroke-width="0.62" stroke-opacity="0.85"/>
<rect x="620.10" y="699.14" width="2.8" height="38.51" fill="#d8503f" stroke="#b23a2c" stroke-width="0.45"/>
<line x1="625.50" y1="736.99" x2="625.50" y2="737.92" stroke="#5c5853" stroke-width="0.62" stroke-opacity="0.85"/>
<rect x="624.10" y="736.99" width="2.8" height="0.90" fill="#d8503f" stroke="#b23a2c" stroke-width="0.45"/>
<line x1="630.50" y1="734.99" x2="630.50" y2="754.25" stroke="#5c5853" stroke-width="0.62" stroke-opacity="0.85"/>
<rect x="629.10" y="738.05" width="2.8" height="2.66" fill="#d8503f" stroke="#b23a2c" stroke-width="0.45"/>
<line x1="634.50" y1="723.71" x2="634.50" y2="752.26" stroke="#5c5853" stroke-width="0.62" stroke-opacity="0.85"/>
<rect x="633.10" y="728.35" width="2.8" height="12.35" fill="#58a37f" stroke="#3d8a66" stroke-width="0.45"/>
<line x1="639.50" y1="712.15" x2="639.50" y2="733.67" stroke="#5c5853" stroke-width="0.62" stroke-opacity="0.85"/>
<rect x="638.10" y="712.15" width="2.8" height="16.47" fill="#58a37f" stroke="#3d8a66" stroke-width="0.45"/>
<line x1="643.50" y1="705.11" x2="643.50" y2="717.46" stroke="#5c5853" stroke-width="0.62" stroke-opacity="0.85"/>
<rect x="642.10" y="712.42" width="2.8" height="5.05" fill="#d8503f" stroke="#b23a2c" stroke-width="0.45"/>
<line x1="648.50" y1="712.42" x2="648.50" y2="728.35" stroke="#5c5853" stroke-width="0.62" stroke-opacity="0.85"/>
<rect x="647.10" y="714.01" width="2.8" height="3.72" fill="#58a37f" stroke="#3d8a66" stroke-width="0.45"/>
<line x1="652.50" y1="688.51" x2="652.50" y2="713.75" stroke="#5c5853" stroke-width="0.62" stroke-opacity="0.85"/>
<rect x="651.10" y="695.42" width="2.8" height="18.33" fill="#58a37f" stroke="#3d8a66" stroke-width="0.45"/>
<line x1="657.50" y1="685.86" x2="657.50" y2="700.46" stroke="#5c5853" stroke-width="0.62" stroke-opacity="0.85"/>
<rect x="656.10" y="689.18" width="2.8" height="6.64" fill="#58a37f" stroke="#3d8a66" stroke-width="0.45"/>
<line x1="661.50" y1="689.18" x2="661.50" y2="723.71" stroke="#5c5853" stroke-width="0.62" stroke-opacity="0.85"/>
<rect x="660.10" y="689.18" width="2.8" height="22.58" fill="#d8503f" stroke="#b23a2c" stroke-width="0.45"/>
<line x1="666.50" y1="709.76" x2="666.50" y2="717.07" stroke="#5c5853" stroke-width="0.62" stroke-opacity="0.85"/>
<rect x="665.10" y="709.76" width="2.8" height="2.39" fill="#58a37f" stroke="#3d8a66" stroke-width="0.45"/>
<line x1="670.50" y1="708.43" x2="670.50" y2="715.47" stroke="#5c5853" stroke-width="0.62" stroke-opacity="0.85"/>
<rect x="669.10" y="709.76" width="2.8" height="5.71" fill="#d8503f" stroke="#b23a2c" stroke-width="0.45"/>
<line x1="675.50" y1="715.47" x2="675.50" y2="739.64" stroke="#5c5853" stroke-width="0.62" stroke-opacity="0.85"/>
<rect x="674.10" y="715.47" width="2.8" height="20.85" fill="#d8503f" stroke="#b23a2c" stroke-width="0.45"/>
<line x1="679.50" y1="717.73" x2="679.50" y2="742.96" stroke="#5c5853" stroke-width="0.62" stroke-opacity="0.85"/>
<rect x="678.10" y="724.63" width="2.8" height="11.69" fill="#58a37f" stroke="#3d8a66" stroke-width="0.45"/>
<line x1="684.50" y1="724.63" x2="684.50" y2="731.27" stroke="#5c5853" stroke-width="0.62" stroke-opacity="0.85"/>
<rect x="683.10" y="724.63" width="2.8" height="6.64" fill="#d8503f" stroke="#b23a2c" stroke-width="0.45"/>
<line x1="688.50" y1="716.40" x2="688.50" y2="733.00" stroke="#5c5853" stroke-width="0.62" stroke-opacity="0.85"/>
<rect x="687.10" y="716.40" width="2.8" height="15.01" fill="#58a37f" stroke="#3d8a66" stroke-width="0.45"/>
<line x1="693.50" y1="713.48" x2="693.50" y2="729.42" stroke="#5c5853" stroke-width="0.62" stroke-opacity="0.85"/>
<rect x="692.10" y="716.40" width="2.8" height="13.01" fill="#d8503f" stroke="#b23a2c" stroke-width="0.45"/>
<line x1="697.50" y1="729.42" x2="697.50" y2="740.97" stroke="#5c5853" stroke-width="0.62" stroke-opacity="0.85"/>
<rect x="696.10" y="729.42" width="2.8" height="11.55" fill="#d8503f" stroke="#b23a2c" stroke-width="0.45"/>
<line x1="702.50" y1="740.97" x2="702.50" y2="752.52" stroke="#5c5853" stroke-width="0.62" stroke-opacity="0.85"/>
<rect x="701.10" y="740.97" width="2.8" height="11.55" fill="#d8503f" stroke="#b23a2c" stroke-width="0.45"/>
<line x1="706.50" y1="744.95" x2="706.50" y2="792.76" stroke="#5c5853" stroke-width="0.62" stroke-opacity="0.85"/>
<rect x="705.10" y="752.26" width="2.8" height="28.29" fill="#d8503f" stroke="#b23a2c" stroke-width="0.45"/>
<line x1="711.50" y1="773.51" x2="711.50" y2="787.45" stroke="#5c5853" stroke-width="0.62" stroke-opacity="0.85"/>
<rect x="710.10" y="779.48" width="2.8" height="1.33" fill="#58a37f" stroke="#3d8a66" stroke-width="0.45"/>
<line x1="715.50" y1="768.19" x2="715.50" y2="784.13" stroke="#5c5853" stroke-width="0.62" stroke-opacity="0.85"/>
<rect x="714.10" y="770.85" width="2.8" height="9.03" fill="#58a37f" stroke="#3d8a66" stroke-width="0.45"/>
<line x1="720.50" y1="764.21" x2="720.50" y2="779.48" stroke="#5c5853" stroke-width="0.62" stroke-opacity="0.85"/>
<rect x="719.10" y="770.85" width="2.8" height="6.24" fill="#d8503f" stroke="#b23a2c" stroke-width="0.45"/>
<line x1="724.50" y1="775.90" x2="724.50" y2="788.11" stroke="#5c5853" stroke-width="0.62" stroke-opacity="0.85"/>
<rect x="723.10" y="775.90" width="2.8" height="1.20" fill="#58a37f" stroke="#3d8a66" stroke-width="0.45"/>
<line x1="729.50" y1="776.16" x2="729.50" y2="789.44" stroke="#5c5853" stroke-width="0.62" stroke-opacity="0.85"/>
<rect x="728.10" y="776.16" width="2.8" height="10.23" fill="#d8503f" stroke="#b23a2c" stroke-width="0.45"/>
<line x1="733.50" y1="781.47" x2="733.50" y2="788.11" stroke="#5c5853" stroke-width="0.62" stroke-opacity="0.85"/>
<rect x="732.10" y="784.40" width="2.8" height="1.99" fill="#58a37f" stroke="#3d8a66" stroke-width="0.45"/>
<line x1="738.50" y1="777.49" x2="738.50" y2="801.39" stroke="#5c5853" stroke-width="0.62" stroke-opacity="0.85"/>
<rect x="737.10" y="784.40" width="2.8" height="14.34" fill="#d8503f" stroke="#b23a2c" stroke-width="0.45"/>
<line x1="742.50" y1="795.02" x2="742.50" y2="802.06" stroke="#5c5853" stroke-width="0.62" stroke-opacity="0.85"/>
<rect x="741.10" y="795.02" width="2.8" height="3.72" fill="#58a37f" stroke="#3d8a66" stroke-width="0.45"/>
<line x1="747.50" y1="789.44" x2="747.50" y2="798.07" stroke="#5c5853" stroke-width="0.62" stroke-opacity="0.85"/>
<rect x="746.10" y="795.02" width="2.8" height="1.33" fill="#d8503f" stroke="#b23a2c" stroke-width="0.45"/>
<line x1="751.50" y1="795.42" x2="751.50" y2="798.07" stroke="#5c5853" stroke-width="0.62" stroke-opacity="0.85"/>
<rect x="750.10" y="796.08" width="2.8" height="1.33" fill="#d8503f" stroke="#b23a2c" stroke-width="0.45"/>
<line x1="756.50" y1="770.19" x2="756.50" y2="797.41" stroke="#5c5853" stroke-width="0.62" stroke-opacity="0.85"/>
<rect x="755.10" y="772.84" width="2.8" height="24.57" fill="#58a37f" stroke="#3d8a66" stroke-width="0.45"/>
<line x1="760.50" y1="767.93" x2="760.50" y2="777.49" stroke="#5c5853" stroke-width="0.62" stroke-opacity="0.85"/>
<rect x="759.10" y="773.24" width="2.8" height="2.66" fill="#d8503f" stroke="#b23a2c" stroke-width="0.45"/>
<line x1="765.50" y1="764.21" x2="765.50" y2="777.49" stroke="#5c5853" stroke-width="0.62" stroke-opacity="0.85"/>
<rect x="764.10" y="773.51" width="2.8" height="2.66" fill="#58a37f" stroke="#3d8a66" stroke-width="0.45"/>
<line x1="769.50" y1="754.25" x2="769.50" y2="783.47" stroke="#5c5853" stroke-width="0.62" stroke-opacity="0.85"/>
<rect x="768.10" y="756.24" width="2.8" height="17.53" fill="#58a37f" stroke="#3d8a66" stroke-width="0.45"/>
<line x1="774.50" y1="750.27" x2="774.50" y2="756.64" stroke="#5c5853" stroke-width="0.62" stroke-opacity="0.85"/>
<rect x="773.10" y="750.27" width="2.8" height="6.37" fill="#58a37f" stroke="#3d8a66" stroke-width="0.45"/>
<line x1="778.50" y1="750.27" x2="778.50" y2="759.56" stroke="#5c5853" stroke-width="0.62" stroke-opacity="0.85"/>
<rect x="777.10" y="750.27" width="2.8" height="5.31" fill="#d8503f" stroke="#b23a2c" stroke-width="0.45"/>
<line x1="783.50" y1="754.25" x2="783.50" y2="762.22" stroke="#5c5853" stroke-width="0.62" stroke-opacity="0.85"/>
<rect x="782.10" y="755.18" width="2.8" height="1.33" fill="#d8503f" stroke="#b23a2c" stroke-width="0.45"/>
<line x1="787.50" y1="756.24" x2="787.50" y2="764.87" stroke="#5c5853" stroke-width="0.62" stroke-opacity="0.85"/>
<rect x="786.10" y="756.24" width="2.8" height="4.65" fill="#d8503f" stroke="#b23a2c" stroke-width="0.45"/>
<line x1="792.50" y1="747.61" x2="792.50" y2="760.89" stroke="#5c5853" stroke-width="0.62" stroke-opacity="0.85"/>
<rect x="791.10" y="750.27" width="2.8" height="10.62" fill="#58a37f" stroke="#3d8a66" stroke-width="0.45"/>
<line x1="796.50" y1="746.28" x2="796.50" y2="754.25" stroke="#5c5853" stroke-width="0.62" stroke-opacity="0.85"/>
<rect x="795.10" y="750.27" width="2.8" height="2.39" fill="#d8503f" stroke="#b23a2c" stroke-width="0.45"/>
<line x1="801.50" y1="752.92" x2="801.50" y2="764.21" stroke="#5c5853" stroke-width="0.62" stroke-opacity="0.85"/>
<rect x="800.10" y="752.92" width="2.8" height="8.63" fill="#d8503f" stroke="#b23a2c" stroke-width="0.45"/>
<line x1="805.50" y1="761.29" x2="805.50" y2="763.55" stroke="#5c5853" stroke-width="0.62" stroke-opacity="0.85"/>
<rect x="804.10" y="761.29" width="2.8" height="1.59" fill="#d8503f" stroke="#b23a2c" stroke-width="0.45"/>
<line x1="810.50" y1="756.24" x2="810.50" y2="764.87" stroke="#5c5853" stroke-width="0.62" stroke-opacity="0.85"/>
<rect x="809.10" y="756.24" width="2.8" height="6.64" fill="#58a37f" stroke="#3d8a66" stroke-width="0.45"/>
<line x1="814.50" y1="751.33" x2="814.50" y2="759.56" stroke="#5c5853" stroke-width="0.62" stroke-opacity="0.85"/>
<rect x="813.10" y="751.33" width="2.8" height="5.31" fill="#58a37f" stroke="#3d8a66" stroke-width="0.45"/>
<line x1="819.50" y1="734.06" x2="819.50" y2="751.59" stroke="#5c5853" stroke-width="0.62" stroke-opacity="0.85"/>
<rect x="818.10" y="734.06" width="2.8" height="17.53" fill="#58a37f" stroke="#3d8a66" stroke-width="0.45"/>
<line x1="823.50" y1="728.35" x2="823.50" y2="738.98" stroke="#5c5853" stroke-width="0.62" stroke-opacity="0.85"/>
<rect x="822.10" y="728.35" width="2.8" height="6.37" fill="#58a37f" stroke="#3d8a66" stroke-width="0.45"/>
<line x1="827.50" y1="721.05" x2="827.50" y2="728.62" stroke="#5c5853" stroke-width="0.62" stroke-opacity="0.85"/>
<rect x="826.10" y="723.04" width="2.8" height="5.58" fill="#58a37f" stroke="#3d8a66" stroke-width="0.45"/>
<line x1="832.50" y1="721.05" x2="832.50" y2="725.43" stroke="#5c5853" stroke-width="0.62" stroke-opacity="0.85"/>
<rect x="831.10" y="722.78" width="2.8" height="1.33" fill="#d8503f" stroke="#b23a2c" stroke-width="0.45"/>
<line x1="836.50" y1="712.42" x2="836.50" y2="727.69" stroke="#5c5853" stroke-width="0.62" stroke-opacity="0.85"/>
<rect x="835.10" y="724.10" width="2.8" height="1.59" fill="#d8503f" stroke="#b23a2c" stroke-width="0.45"/>
<line x1="841.50" y1="711.75" x2="841.50" y2="731.01" stroke="#5c5853" stroke-width="0.62" stroke-opacity="0.85"/>
<rect x="840.10" y="713.75" width="2.8" height="11.95" fill="#58a37f" stroke="#3d8a66" stroke-width="0.45"/>
<line x1="845.50" y1="692.76" x2="845.50" y2="713.75" stroke="#5c5853" stroke-width="0.62" stroke-opacity="0.85"/>
<rect x="844.10" y="692.76" width="2.8" height="20.98" fill="#58a37f" stroke="#3d8a66" stroke-width="0.45"/>
<line x1="850.50" y1="680.28" x2="850.50" y2="697.81" stroke="#5c5853" stroke-width="0.62" stroke-opacity="0.85"/>
<rect x="849.10" y="688.11" width="2.8" height="5.05" fill="#58a37f" stroke="#3d8a66" stroke-width="0.45"/>
<line x1="854.50" y1="681.21" x2="854.50" y2="695.15" stroke="#5c5853" stroke-width="0.62" stroke-opacity="0.85"/>
<rect x="853.10" y="688.11" width="2.8" height="1.33" fill="#d8503f" stroke="#b23a2c" stroke-width="0.45"/>
<line x1="859.50" y1="689.44" x2="859.50" y2="700.46" stroke="#5c5853" stroke-width="0.62" stroke-opacity="0.85"/>
<rect x="858.10" y="689.44" width="2.8" height="1.99" fill="#d8503f" stroke="#b23a2c" stroke-width="0.45"/>
<line x1="863.50" y1="682.54" x2="863.50" y2="695.82" stroke="#5c5853" stroke-width="0.62" stroke-opacity="0.85"/>
<rect x="862.10" y="686.52" width="2.8" height="4.91" fill="#58a37f" stroke="#3d8a66" stroke-width="0.45"/>
<line x1="868.50" y1="681.87" x2="868.50" y2="688.51" stroke="#5c5853" stroke-width="0.62" stroke-opacity="0.85"/>
<rect x="867.10" y="686.52" width="2.8" height="1.73" fill="#d8503f" stroke="#b23a2c" stroke-width="0.45"/>
<line x1="872.50" y1="688.39" x2="872.50" y2="704.99" stroke="#5c5853" stroke-width="0.62" stroke-opacity="0.85"/>
<rect x="871.10" y="688.39" width="2.8" height="14.21" fill="#d8503f" stroke="#b23a2c" stroke-width="0.45"/>
<line x1="877.50" y1="686.80" x2="877.50" y2="702.60" stroke="#5c5853" stroke-width="0.62" stroke-opacity="0.85"/>
<rect x="876.10" y="686.80" width="2.8" height="15.80" fill="#58a37f" stroke="#3d8a66" stroke-width="0.45"/>
<line x1="881.50" y1="684.81" x2="881.50" y2="711.90" stroke="#5c5853" stroke-width="0.62" stroke-opacity="0.85"/>
<rect x="880.10" y="686.80" width="2.8" height="11.82" fill="#d8503f" stroke="#b23a2c" stroke-width="0.45"/>
<line x1="886.50" y1="691.71" x2="886.50" y2="706.99" stroke="#5c5853" stroke-width="0.62" stroke-opacity="0.85"/>
<rect x="885.10" y="699.02" width="2.8" height="4.91" fill="#d8503f" stroke="#b23a2c" stroke-width="0.45"/>
<line x1="890.50" y1="689.32" x2="890.50" y2="703.93" stroke="#5c5853" stroke-width="0.62" stroke-opacity="0.85"/>
<rect x="889.10" y="689.32" width="2.8" height="14.61" fill="#58a37f" stroke="#3d8a66" stroke-width="0.45"/>
<line x1="895.50" y1="685.07" x2="895.50" y2="698.35" stroke="#5c5853" stroke-width="0.62" stroke-opacity="0.85"/>
<rect x="894.10" y="685.07" width="2.8" height="4.65" fill="#58a37f" stroke="#3d8a66" stroke-width="0.45"/>
<line x1="899.50" y1="673.52" x2="899.50" y2="689.06" stroke="#5c5853" stroke-width="0.62" stroke-opacity="0.85"/>
<rect x="898.10" y="673.52" width="2.8" height="11.95" fill="#58a37f" stroke="#3d8a66" stroke-width="0.45"/>
<line x1="904.50" y1="656.52" x2="904.50" y2="673.78" stroke="#5c5853" stroke-width="0.62" stroke-opacity="0.85"/>
<rect x="903.10" y="659.18" width="2.8" height="14.61" fill="#58a37f" stroke="#3d8a66" stroke-width="0.45"/>
<line x1="908.50" y1="650.54" x2="908.50" y2="663.82" stroke="#5c5853" stroke-width="0.62" stroke-opacity="0.85"/>
<rect x="907.10" y="659.18" width="2.8" height="1.59" fill="#d8503f" stroke="#b23a2c" stroke-width="0.45"/>
<line x1="913.50" y1="657.18" x2="913.50" y2="663.56" stroke="#5c5853" stroke-width="0.62" stroke-opacity="0.85"/>
<rect x="912.10" y="658.11" width="2.8" height="2.66" fill="#58a37f" stroke="#3d8a66" stroke-width="0.45"/>
<line x1="917.50" y1="649.22" x2="917.50" y2="663.82" stroke="#5c5853" stroke-width="0.62" stroke-opacity="0.85"/>
<rect x="916.10" y="654.26" width="2.8" height="3.59" fill="#58a37f" stroke="#3d8a66" stroke-width="0.45"/>
<line x1="922.50" y1="651.21" x2="922.50" y2="663.16" stroke="#5c5853" stroke-width="0.62" stroke-opacity="0.85"/>
<rect x="921.10" y="654.26" width="2.8" height="5.31" fill="#d8503f" stroke="#b23a2c" stroke-width="0.45"/>
<line x1="926.50" y1="657.45" x2="926.50" y2="675.78" stroke="#5c5853" stroke-width="0.62" stroke-opacity="0.85"/>
<rect x="925.10" y="659.58" width="2.8" height="13.94" fill="#d8503f" stroke="#b23a2c" stroke-width="0.45"/>
<line x1="931.50" y1="670.46" x2="931.50" y2="675.11" stroke="#5c5853" stroke-width="0.62" stroke-opacity="0.85"/>
<rect x="930.10" y="671.79" width="2.8" height="1.73" fill="#58a37f" stroke="#3d8a66" stroke-width="0.45"/>
<line x1="935.50" y1="666.48" x2="935.50" y2="679.50" stroke="#5c5853" stroke-width="0.62" stroke-opacity="0.85"/>
<rect x="934.10" y="669.14" width="2.8" height="2.66" fill="#58a37f" stroke="#3d8a66" stroke-width="0.45"/>
<line x1="940.50" y1="653.86" x2="940.50" y2="669.14" stroke="#5c5853" stroke-width="0.62" stroke-opacity="0.85"/>
<rect x="939.10" y="653.86" width="2.8" height="15.27" fill="#58a37f" stroke="#3d8a66" stroke-width="0.45"/>
<line x1="944.50" y1="647.89" x2="944.50" y2="654.53" stroke="#5c5853" stroke-width="0.62" stroke-opacity="0.85"/>
<rect x="943.10" y="652.27" width="2.8" height="1.59" fill="#58a37f" stroke="#3d8a66" stroke-width="0.45"/>
<line x1="949.50" y1="651.87" x2="949.50" y2="656.25" stroke="#5c5853" stroke-width="0.62" stroke-opacity="0.85"/>
<rect x="948.10" y="652.27" width="2.8" height="3.98" fill="#d8503f" stroke="#b23a2c" stroke-width="0.45"/>
<line x1="953.50" y1="642.97" x2="953.50" y2="656.25" stroke="#5c5853" stroke-width="0.62" stroke-opacity="0.85"/>
<rect x="952.10" y="642.97" width="2.8" height="13.28" fill="#58a37f" stroke="#3d8a66" stroke-width="0.45"/>
<line x1="958.50" y1="639.92" x2="958.50" y2="646.56" stroke="#5c5853" stroke-width="0.62" stroke-opacity="0.85"/>
<rect x="957.10" y="642.97" width="2.8" height="3.59" fill="#d8503f" stroke="#b23a2c" stroke-width="0.45"/>
<line x1="962.50" y1="639.92" x2="962.50" y2="647.89" stroke="#5c5853" stroke-width="0.62" stroke-opacity="0.85"/>
<rect x="961.10" y="646.16" width="2.8" height="0.90" fill="#d8503f" stroke="#b23a2c" stroke-width="0.45"/>
<line x1="967.50" y1="645.23" x2="967.50" y2="651.21" stroke="#5c5853" stroke-width="0.62" stroke-opacity="0.85"/>
<rect x="966.10" y="645.23" width="2.8" height="1.99" fill="#58a37f" stroke="#3d8a66" stroke-width="0.45"/>
<line x1="971.50" y1="640.19" x2="971.50" y2="645.50" stroke="#5c5853" stroke-width="0.62" stroke-opacity="0.85"/>
<rect x="970.10" y="640.19" width="2.8" height="5.31" fill="#58a37f" stroke="#3d8a66" stroke-width="0.45"/>
<line x1="976.50" y1="640.19" x2="976.50" y2="654.53" stroke="#5c5853" stroke-width="0.62" stroke-opacity="0.85"/>
<rect x="975.10" y="640.19" width="2.8" height="5.71" fill="#d8503f" stroke="#b23a2c" stroke-width="0.45"/>
<line x1="980.50" y1="645.23" x2="980.50" y2="649.88" stroke="#5c5853" stroke-width="0.62" stroke-opacity="0.85"/>
<rect x="979.10" y="646.16" width="2.8" height="3.32" fill="#d8503f" stroke="#b23a2c" stroke-width="0.45"/>
<rect x="666" y="707.5" width="72.6" height="94.8" fill="#8f9ae6" fill-opacity="0.33"/>
<g stroke="#2b66ff" stroke-width="1.7" fill="none"><path d="M666 707.5 H738.6 M666 802.3 H738.6 M702.1 707.5 V801.5 M693.3 793.6 L702.1 802 L710.9 793.6"/></g>
<rect x="610.6" y="810.6" width="183" height="21.2" rx="4" fill="#000" fill-opacity="0.06"/>
<rect x="611.1" y="810.4" width="182" height="20.2" rx="3.5" fill="#fff"/>
<text x="619.20" y="824.20" font-size="10" fill="#2f3138" textLength="166.4" lengthAdjust="spacingAndGlyphs" stroke="#2f3138" stroke-width="0.2">−36,348.33 (−69.99%) −3,634,833</text>
<line x1="8.3" y1="1134.6" x2="1167.5" y2="1134.6" stroke="#cfc3ba" stroke-width="0.8" stroke-dasharray="2 2"/>
<rect x="462.36" y="1124.15" width="4.0" height="10.45" fill="#b2dfdb"/>
<rect x="466.85" y="1123.50" width="4.0" height="11.10" fill="#26a69a"/>
<rect x="471.34" y="1122.99" width="4.0" height="11.61" fill="#26a69a"/>
<rect x="475.82" y="1123.89" width="4.0" height="10.71" fill="#b2dfdb"/>
<rect x="480.31" y="1125.18" width="4.0" height="9.42" fill="#b2dfdb"/>
<rect x="484.80" y="1128.41" width="4.0" height="6.19" fill="#b2dfdb"/>
<rect x="489.29" y="1130.34" width="4.0" height="4.26" fill="#b2dfdb"/>
<rect x="493.78" y="1131.63" width="4.0" height="2.97" fill="#b2dfdb"/>
<rect x="498.27" y="1132.54" width="4.0" height="2.06" fill="#b2dfdb"/>
<rect x="502.76" y="1133.31" width="4.0" height="1.29" fill="#b2dfdb"/>
<rect x="507.25" y="1133.83" width="4.0" height="0.77" fill="#b2dfdb"/>
<rect x="511.74" y="1134.21" width="4.0" height="0.50" fill="#b2dfdb"/>
<rect x="516.23" y="1133.83" width="4.0" height="0.77" fill="#26a69a"/>
<rect x="520.72" y="1133.31" width="4.0" height="1.29" fill="#26a69a"/>
<rect x="529.70" y="1134.60" width="4.0" height="0.90" fill="#ff5252"/>
<rect x="534.19" y="1134.60" width="4.0" height="1.81" fill="#ff5252"/>
<rect x="543.16" y="1133.83" width="4.0" height="0.77" fill="#26a69a"/>
<rect x="547.65" y="1133.31" width="4.0" height="1.29" fill="#26a69a"/>
<rect x="552.14" y="1132.92" width="4.0" height="1.68" fill="#26a69a"/>
<rect x="556.63" y="1132.02" width="4.0" height="2.58" fill="#26a69a"/>
<rect x="561.12" y="1131.76" width="4.0" height="2.84" fill="#26a69a"/>
<rect x="565.61" y="1132.02" width="4.0" height="2.58" fill="#b2dfdb"/>
<rect x="570.10" y="1130.34" width="4.0" height="4.26" fill="#26a69a"/>
<rect x="574.59" y="1128.15" width="4.0" height="6.45" fill="#26a69a"/>
<rect x="579.08" y="1124.85" width="4.0" height="9.75" fill="#26a69a"/>
<rect x="583.57" y="1118.29" width="4.0" height="16.31" fill="#26a69a"/>
<rect x="588.06" y="1110.79" width="4.0" height="23.81" fill="#26a69a"/>
<rect x="592.55" y="1107.97" width="4.0" height="26.63" fill="#26a69a"/>
<rect x="597.04" y="1096.35" width="4.0" height="38.25" fill="#26a69a"/>
<rect x="601.53" y="1090.53" width="4.0" height="44.07" fill="#26a69a"/>
<rect x="606.01" y="1085.85" width="4.0" height="48.75" fill="#26a69a"/>
<rect x="610.50" y="1086.22" width="4.0" height="48.38" fill="#b2dfdb"/>
<rect x="614.99" y="1087.72" width="4.0" height="46.88" fill="#b2dfdb"/>
<rect x="619.48" y="1107.60" width="4.0" height="27.00" fill="#b2dfdb"/>
<rect x="623.97" y="1122.04" width="4.0" height="12.56" fill="#b2dfdb"/>
<rect x="628.46" y="1133.85" width="4.0" height="0.75" fill="#b2dfdb"/>
<rect x="632.95" y="1134.60" width="4.0" height="3.38" fill="#ff5252"/>
<rect x="641.93" y="1134.60" width="4.0" height="1.88" fill="#ff5252"/>
<rect x="646.42" y="1134.04" width="4.0" height="0.56" fill="#26a69a"/>
<rect x="650.91" y="1128.04" width="4.0" height="6.56" fill="#26a69a"/>
<rect x="655.40" y="1121.10" width="4.0" height="13.50" fill="#26a69a"/>
<rect x="659.89" y="1129.16" width="4.0" height="5.44" fill="#b2dfdb"/>
<rect x="664.38" y="1134.60" width="4.0" height="0.94" fill="#ff5252"/>
<rect x="668.86" y="1134.60" width="4.0" height="6.75" fill="#ff5252"/>
<rect x="673.35" y="1134.60" width="4.0" height="18.94" fill="#ff5252"/>
<rect x="677.84" y="1134.60" width="4.0" height="22.50" fill="#ff5252"/>
<rect x="682.33" y="1134.60" width="4.0" height="26.44" fill="#ff5252"/>
<rect x="686.82" y="1134.60" width="4.0" height="22.13" fill="#ffcdd2"/>
<rect x="691.31" y="1134.60" width="4.0" height="24.94" fill="#ff5252"/>
<rect x="695.80" y="1134.60" width="4.0" height="29.25" fill="#ff5252"/>
<rect x="700.29" y="1134.60" width="4.0" height="34.69" fill="#ff5252"/>
<rect x="704.78" y="1134.60" width="4.0" height="42.38" fill="#ff5252"/>
<rect x="709.27" y="1134.60" width="4.0" height="45.00" fill="#ff5252"/>
<rect x="713.76" y="1134.60" width="4.0" height="43.69" fill="#ffcdd2"/>
<rect x="718.25" y="1134.60" width="4.0" height="40.88" fill="#ffcdd2"/>
<rect x="722.74" y="1134.60" width="4.0" height="37.13" fill="#ffcdd2"/>
<rect x="727.23" y="1134.60" width="4.0" height="34.31" fill="#ffcdd2"/>
<rect x="731.71" y="1134.60" width="4.0" height="30.56" fill="#ffcdd2"/>
<rect x="736.20" y="1134.60" width="4.0" height="28.13" fill="#ffcdd2"/>
<rect x="740.69" y="1134.60" width="4.0" height="24.94" fill="#ffcdd2"/>
<rect x="745.18" y="1134.60" width="4.0" height="21.19" fill="#ffcdd2"/>
<rect x="749.67" y="1134.60" width="4.0" height="16.50" fill="#ffcdd2"/>
<rect x="754.16" y="1134.60" width="4.0" height="10.88" fill="#ffcdd2"/>
<rect x="758.65" y="1134.60" width="4.0" height="6.19" fill="#ffcdd2"/>
<rect x="763.14" y="1134.60" width="4.0" height="2.44" fill="#ffcdd2"/>
<rect x="767.63" y="1128.60" width="4.0" height="6.00" fill="#26a69a"/>
<rect x="772.12" y="1122.60" width="4.0" height="12.00" fill="#26a69a"/>
<rect x="776.61" y="1120.72" width="4.0" height="13.88" fill="#26a69a"/>
<rect x="781.10" y="1119.60" width="4.0" height="15.00" fill="#26a69a"/>
<rect x="785.59" y="1120.54" width="4.0" height="14.06" fill="#b2dfdb"/>
<rect x="790.08" y="1118.85" width="4.0" height="15.75" fill="#26a69a"/>
<rect x="794.57" y="1119.79" width="4.0" height="14.81" fill="#b2dfdb"/>
<rect x="799.05" y="1122.60" width="4.0" height="12.00" fill="#b2dfdb"/>
<rect x="803.54" y="1124.85" width="4.0" height="9.75" fill="#b2dfdb"/>
<rect x="808.03" y="1125.22" width="4.0" height="9.38" fill="#b2dfdb"/>
<rect x="812.52" y="1124.47" width="4.0" height="10.13" fill="#26a69a"/>
<rect x="817.01" y="1119.60" width="4.0" height="15.00" fill="#26a69a"/>
<rect x="821.50" y="1115.47" width="4.0" height="19.13" fill="#26a69a"/>
<rect x="825.99" y="1111.72" width="4.0" height="22.88" fill="#26a69a"/>
<rect x="830.48" y="1110.79" width="4.0" height="23.81" fill="#26a69a"/>
<rect x="834.97" y="1111.72" width="4.0" height="22.88" fill="#b2dfdb"/>
<rect x="839.46" y="1109.85" width="4.0" height="24.75" fill="#26a69a"/>
<rect x="843.95" y="1099.16" width="4.0" height="35.44" fill="#26a69a"/>
<rect x="848.44" y="1092.60" width="4.0" height="42.00" fill="#26a69a"/>
<rect x="852.93" y="1091.66" width="4.0" height="42.94" fill="#26a69a"/>
<rect x="857.42" y="1094.85" width="4.0" height="39.75" fill="#b2dfdb"/>
<rect x="861.90" y="1096.35" width="4.0" height="38.25" fill="#b2dfdb"/>
<rect x="866.39" y="1101.41" width="4.0" height="33.19" fill="#b2dfdb"/>
<rect x="870.88" y="1114.54" width="4.0" height="20.06" fill="#b2dfdb"/>
<rect x="875.37" y="1115.47" width="4.0" height="19.13" fill="#b2dfdb"/>
<rect x="879.86" y="1124.85" width="4.0" height="9.75" fill="#b2dfdb"/>
<rect x="884.35" y="1134.60" width="4.0" height="0.94" fill="#ff5252"/>
<rect x="888.84" y="1133.85" width="4.0" height="0.75" fill="#26a69a"/>
<rect x="893.33" y="1131.97" width="4.0" height="2.63" fill="#26a69a"/>
<rect x="897.82" y="1124.47" width="4.0" height="10.13" fill="#26a69a"/>
<rect x="902.31" y="1109.29" width="4.0" height="25.31" fill="#26a69a"/>
<rect x="906.80" y="1103.47" width="4.0" height="31.13" fill="#26a69a"/>
<rect x="911.29" y="1100.85" width="4.0" height="33.75" fill="#26a69a"/>
<rect x="915.78" y="1098.04" width="4.0" height="36.56" fill="#26a69a"/>
<rect x="920.27" y="1104.22" width="4.0" height="30.38" fill="#b2dfdb"/>
<rect x="924.75" y="1121.10" width="4.0" height="13.50" fill="#b2dfdb"/>
<rect x="929.24" y="1133.29" width="4.0" height="1.31" fill="#b2dfdb"/>
<rect x="933.73" y="1134.60" width="4.0" height="4.88" fill="#ff5252"/>
<rect x="938.22" y="1131.79" width="4.0" height="2.81" fill="#26a69a"/>
<rect x="942.71" y="1127.10" width="4.0" height="7.50" fill="#26a69a"/>
<rect x="947.20" y="1128.97" width="4.0" height="5.63" fill="#b2dfdb"/>
<rect x="951.69" y="1119.60" width="4.0" height="15.00" fill="#26a69a"/>
<rect x="956.18" y="1119.22" width="4.0" height="15.38" fill="#26a69a"/>
<rect x="960.67" y="1121.10" width="4.0" height="13.50" fill="#b2dfdb"/>
<rect x="965.16" y="1123.54" width="4.0" height="11.06" fill="#b2dfdb"/>
<rect x="969.65" y="1120.72" width="4.0" height="13.88" fill="#26a69a"/>
<rect x="974.14" y="1128.04" width="4.0" height="6.56" fill="#b2dfdb"/>
<rect x="978.63" y="1134.60" width="4.0" height="2.44" fill="#ff5252"/>
<polyline points="428.44,1151.20 432.93,1151.90 437.42,1152.40 441.91,1151.90 446.40,1151.40 450.89,1149.40 455.38,1146.20 459.87,1142.00 464.36,1137.44 468.85,1133.57 473.34,1130.73 477.82,1129.05 482.31,1128.15 486.80,1128.41 491.29,1128.15 495.78,1128.66 500.27,1129.95 504.76,1131.25 509.25,1131.76 513.74,1131.37 518.23,1130.47 522.72,1131.37 527.21,1133.83 531.70,1134.86 536.19,1133.83 540.67,1132.54 545.16,1131.76 549.65,1130.73 554.14,1129.05 558.63,1127.12 563.12,1126.86 567.61,1126.47 572.10,1123.50 576.59,1118.73 581.08,1114.05 585.57,1103.43 590.06,1090.00 594.55,1080.55 599.04,1059.38 603.53,1042.58 608.01,1025.72 612.50,1014.02 616.99,1003.83 621.48,1017.05 625.97,1028.44 630.46,1040.16 634.95,1045.22 639.44,1041.94 643.93,1044.38 648.42,1041.89 652.91,1034.34 657.40,1024.13 661.89,1030.92 666.38,1037.63 670.86,1045.22 675.35,1062.24 679.84,1071.52 684.33,1082.16 688.82,1083.47 693.31,1092.61 697.80,1104.33 702.29,1118.54 706.78,1136.91 711.27,1150.88 715.76,1160.59 720.25,1168.09 724.74,1173.71 729.23,1179.57 733.71,1183.56 738.20,1188.24 742.69,1191.39 747.18,1193.03 751.67,1192.56 756.16,1189.74 760.65,1186.70 765.14,1183.57 769.63,1173.64 774.12,1164.65 778.61,1159.32 783.10,1154.46 787.59,1151.89 792.08,1146.28 796.57,1143.53 801.05,1143.35 805.54,1143.18 810.03,1141.22 814.52,1137.95 819.01,1129.34 823.50,1120.44 827.99,1110.99 832.48,1104.11 836.97,1099.34 841.46,1091.29 845.95,1071.75 850.44,1054.70 854.93,1043.04 859.42,1036.30 863.90,1028.25 868.39,1025.03 872.88,1033.15 877.37,1029.32 881.86,1036.27 886.35,1047.20 890.84,1045.34 895.33,1042.82 899.82,1032.80 904.31,1011.30 908.80,997.71 913.29,986.66 917.78,974.72 922.27,973.33 926.75,986.84 931.24,998.71 935.73,1006.13 940.22,997.75 944.71,991.20 949.20,991.68 953.69,978.57 958.18,974.36 962.67,972.88 967.16,972.56 971.65,966.29 976.14,971.98 980.63,981.60" fill="none" stroke="#4d7cf3" stroke-width="1.15" stroke-linejoin="round" stroke-linecap="round" />
<polyline points="464.36,1148.79 468.85,1145.83 473.34,1143.25 477.82,1140.66 482.31,1138.34 486.80,1136.15 491.29,1134.60 495.78,1133.57 500.27,1133.05 504.76,1132.54 509.25,1132.28 513.74,1132.02 518.23,1131.63 522.72,1131.63 527.21,1132.28 531.70,1132.92 536.19,1133.05 540.67,1132.92 545.16,1132.66 549.65,1132.28 554.14,1131.63 558.63,1130.73 563.12,1129.95 567.61,1129.31 572.10,1128.15 576.59,1126.21 581.08,1123.80 585.57,1119.74 590.06,1113.81 594.55,1107.18 599.04,1097.63 603.53,1086.64 608.01,1074.47 612.50,1062.40 616.99,1050.71 621.48,1044.05 625.97,1041.00 630.46,1040.91 634.95,1041.85 639.44,1041.94 643.93,1042.50 648.42,1042.45 652.91,1040.91 657.40,1037.63 661.89,1036.36 666.38,1036.69 670.86,1038.47 675.35,1043.30 679.84,1049.02 684.33,1055.72 688.82,1061.35 693.31,1067.67 697.80,1075.08 702.29,1083.85 706.78,1094.54 711.27,1105.88 715.76,1116.90 720.25,1127.21 724.74,1136.59 729.23,1145.26 733.71,1152.99 738.20,1160.12 742.69,1166.45 747.18,1171.84 751.67,1176.06 756.16,1178.87 760.65,1180.51 765.14,1181.13 769.63,1179.64 774.12,1176.66 778.61,1173.20 783.10,1169.46 787.59,1165.96 792.08,1162.03 796.57,1158.34 801.05,1155.35 805.54,1152.93 810.03,1150.60 814.52,1148.08 819.01,1144.34 823.50,1139.57 827.99,1133.86 832.48,1127.92 836.97,1122.21 841.46,1116.04 845.95,1107.19 850.44,1096.70 854.93,1085.98 859.42,1076.05 863.90,1066.50 868.39,1058.22 872.88,1053.21 877.37,1048.44 881.86,1046.02 886.35,1046.27 890.84,1046.09 895.33,1045.45 899.82,1042.93 904.31,1036.61 908.80,1028.84 913.29,1020.42 917.78,1011.29 922.27,1003.71 926.75,1000.34 931.24,1000.03 935.73,1001.26 940.22,1000.57 944.71,998.70 949.20,997.31 953.69,993.57 958.18,989.74 962.67,986.38 967.16,983.62 971.65,980.17 976.14,978.54 980.63,979.16" fill="none" stroke="#f5883a" stroke-width="1.15" stroke-linejoin="round" stroke-linecap="round" />
<text x="14.50" y="611.20" font-size="10" fill="#5d5a58" textLength="66.0" lengthAdjust="spacingAndGlyphs" stroke-width="0.22" stroke="#5d5a58">RSI (14, close)</text>
<text x="86.80" y="611.20" font-size="10" fill="#8561c9" textLength="26.2" lengthAdjust="spacingAndGlyphs" stroke-width="0.22" stroke="#8561c9">60.44</text>
<text x="119.50" y="611.20" font-size="10" fill="#f7d650" textLength="25.5" lengthAdjust="spacingAndGlyphs" stroke-width="0.22" stroke="#f7d650">65.27</text>
<text x="14.50" y="638.60" font-size="10" fill="#5d5a58" textLength="152.5" lengthAdjust="spacingAndGlyphs" stroke-width="0.22" stroke="#5d5a58">Bitcoin / TetherUS · 3W · Binance</text>
<text x="173" y="638.6" font-size="10" textLength="56.5" lengthAdjust="spacingAndGlyphs" stroke-width="0.22"><tspan fill="#4a4644" stroke="#4a4644">O</tspan><tspan fill="#8a2b22" stroke="#8a2b22">114,559.41</tspan></text>
<text x="235" y="638.6" font-size="10" textLength="57.5" lengthAdjust="spacingAndGlyphs" stroke-width="0.22"><tspan fill="#4a4644" stroke="#4a4644">H</tspan><tspan fill="#8a2b22" stroke="#8a2b22">116,400.00</tspan></text>
<text x="298.5" y="638.6" font-size="10" textLength="56.5" lengthAdjust="spacingAndGlyphs" stroke-width="0.22"><tspan fill="#4a4644" stroke="#4a4644">L</tspan><tspan fill="#8a2b22" stroke="#8a2b22">107,925.06</tspan></text>
<text x="361" y="638.6" font-size="10" textLength="57" lengthAdjust="spacingAndGlyphs" stroke-width="0.22"><tspan fill="#4a4644" stroke="#4a4644">C</tspan><tspan fill="#8a2b22" stroke="#8a2b22">109,882.14</tspan></text>
<text x="424.50" y="638.60" font-size="10" fill="#8a2b22" textLength="91.5" lengthAdjust="spacingAndGlyphs" stroke-width="0.22" stroke="#8a2b22">−4,677.26 (−4.08%)</text>
<text x="14.50" y="970.60" font-size="10" fill="#5d5a58" textLength="96.5" lengthAdjust="spacingAndGlyphs" stroke-width="0.22" stroke="#5d5a58">MACD (12, 26, close)</text>
<text x="118.00" y="970.60" font-size="10" fill="#f04a52" textLength="37.5" lengthAdjust="spacingAndGlyphs" stroke-width="0.22" stroke="#f04a52">−252.30</text>
<text x="162.00" y="970.60" font-size="10" fill="#2f66f5" textLength="44.5" lengthAdjust="spacingAndGlyphs" stroke-width="0.22" stroke="#2f66f5">14,309.61</text>
<text x="212.50" y="970.60" font-size="10" fill="#fb7a1e" textLength="44.0" lengthAdjust="spacingAndGlyphs" stroke-width="0.22" stroke="#fb7a1e">14,561.90</text>
<text x="1174.40" y="687.09" font-size="9.5" fill="#6e6a67" textLength="45.3" lengthAdjust="spacingAndGlyphs" >70,000.00</text>
<text x="1174.40" y="713.40" font-size="9.5" fill="#6e6a67" textLength="45.3" lengthAdjust="spacingAndGlyphs" >50,000.00</text>
<text x="1174.40" y="743.56" font-size="9.5" fill="#6e6a67" textLength="45.3" lengthAdjust="spacingAndGlyphs" >34,000.00</text>
<text x="1174.40" y="770.80" font-size="9.5" fill="#6e6a67" textLength="45.3" lengthAdjust="spacingAndGlyphs" >24,000.00</text>
<text x="1174.40" y="802.50" font-size="9.5" fill="#6e6a67" textLength="45.3" lengthAdjust="spacingAndGlyphs" >16,000.00</text>
<text x="1174.40" y="831.80" font-size="9.5" fill="#6e6a67" textLength="45.3" lengthAdjust="spacingAndGlyphs" >11,000.00</text>
<text x="1174.40" y="856.71" font-size="9.5" fill="#6e6a67" textLength="39.8" lengthAdjust="spacingAndGlyphs" >8,000.00</text>
<text x="1174.40" y="884.60" font-size="9.5" fill="#6e6a67" textLength="39.8" lengthAdjust="spacingAndGlyphs" >5,600.00</text>
<text x="1174.40" y="908.98" font-size="9.5" fill="#6e6a67" textLength="39.8" lengthAdjust="spacingAndGlyphs" >4,100.00</text>
<text x="1174.40" y="936.06" font-size="9.5" fill="#6e6a67" textLength="39.8" lengthAdjust="spacingAndGlyphs" >2,900.00</text>
<text x="1174.40" y="977.60" font-size="9.5" fill="#6e6a67" textLength="45.3" lengthAdjust="spacingAndGlyphs" >15,000.00</text>
<text x="1174.40" y="1004.25" font-size="9.5" fill="#6e6a67" textLength="45.3" lengthAdjust="spacingAndGlyphs" >12,500.00</text>
<text x="1174.40" y="1030.90" font-size="9.5" fill="#6e6a67" textLength="45.3" lengthAdjust="spacingAndGlyphs" >10,000.00</text>
<text x="1174.40" y="1057.55" font-size="9.5" fill="#6e6a67" textLength="39.8" lengthAdjust="spacingAndGlyphs" >7,500.00</text>
<text x="1174.40" y="1084.20" font-size="9.5" fill="#6e6a67" textLength="39.8" lengthAdjust="spacingAndGlyphs" >5,000.00</text>
<text x="1174.40" y="1110.85" font-size="9.5" fill="#6e6a67" textLength="39.8" lengthAdjust="spacingAndGlyphs" >2,500.00</text>
<text x="1174.40" y="1137.50" font-size="9.5" fill="#6e6a67" textLength="19.5" lengthAdjust="spacingAndGlyphs" >0.00</text>
<text x="1174.40" y="1164.15" font-size="9.5" fill="#6e6a67" textLength="45.8" lengthAdjust="spacingAndGlyphs" >−2,500.00</text>
<text x="1174.40" y="1190.80" font-size="9.5" fill="#6e6a67" textLength="45.8" lengthAdjust="spacingAndGlyphs" >−5,000.00</text>
<rect x="1118" y="643.1" width="49" height="12.6" rx="1.5" fill="#e0523e"/>
<text x="1121.00" y="652.60" font-size="8.4" fill="#fff" textLength="41.7" lengthAdjust="spacingAndGlyphs" >BTCUSDT</text>
<rect x="1167.5" y="643.1" width="61.9" height="23.2" rx="1.5" fill="#e0523e"/>
<text x="1175.60" y="652.30" font-size="10" fill="#f7d3ca" textLength="45.5" lengthAdjust="spacingAndGlyphs" >109,882.14</text>
<text x="1175.60" y="662.80" font-size="10" fill="#f7d3ca" textLength="34.7" lengthAdjust="spacingAndGlyphs" >17d 13h</text>
<rect x="1169.7" y="625.6" width="59.7" height="19.6" rx="3.5" fill="#fff"/>
<text x="1177.50" y="638.70" font-size="10.4" fill="#2a2e39" textLength="25.3" lengthAdjust="spacingAndGlyphs" stroke="#2a2e39" stroke-width="0.3">USDT</text>
<clipPath id="cb"><rect x="8.3" y="1209" width="1157.4" height="21"/></clipPath><g clip-path="url(#cb)">
<text x="351.80" y="1222.60" font-size="9.8" fill="#56524f" font-weight="bold" text-anchor="middle" textLength="23.5" lengthAdjust="spacingAndGlyphs" >2018</text>
<text x="432.50" y="1222.60" font-size="9.8" fill="#56524f" font-weight="bold" text-anchor="middle" textLength="23.5" lengthAdjust="spacingAndGlyphs" >2019</text>
<text x="513.30" y="1222.60" font-size="9.8" fill="#56524f" font-weight="bold" text-anchor="middle" textLength="23.5" lengthAdjust="spacingAndGlyphs" >2020</text>
<text x="594.30" y="1222.60" font-size="9.8" fill="#56524f" font-weight="bold" text-anchor="middle" textLength="23.5" lengthAdjust="spacingAndGlyphs" >2021</text>
<text x="675.30" y="1222.60" font-size="9.8" fill="#56524f" font-weight="bold" text-anchor="middle" textLength="23.5" lengthAdjust="spacingAndGlyphs" >2022</text>
<text x="755.80" y="1222.60" font-size="9.8" fill="#56524f" font-weight="bold" text-anchor="middle" textLength="23.5" lengthAdjust="spacingAndGlyphs" >2023</text>
<text x="836.80" y="1222.60" font-size="9.8" fill="#56524f" font-weight="bold" text-anchor="middle" textLength="23.5" lengthAdjust="spacingAndGlyphs" >2024</text>
<text x="917.30" y="1222.60" font-size="9.8" fill="#56524f" font-weight="bold" text-anchor="middle" textLength="23.5" lengthAdjust="spacingAndGlyphs" >2025</text>
<text x="998.30" y="1222.60" font-size="9.8" fill="#56524f" font-weight="bold" text-anchor="middle" textLength="23.5" lengthAdjust="spacingAndGlyphs" >2026</text>
<text x="1079.00" y="1222.60" font-size="9.8" fill="#56524f" font-weight="bold" text-anchor="middle" textLength="23.5" lengthAdjust="spacingAndGlyphs" >2027</text>
<text x="1160.00" y="1222.60" font-size="9.8" fill="#56524f" font-weight="bold" text-anchor="middle" textLength="23.5" lengthAdjust="spacingAndGlyphs" >2028</text>
<text x="392.30" y="1222.60" font-size="9.8" fill="#6e6a67" text-anchor="middle" textLength="12.3" lengthAdjust="spacingAndGlyphs" >Jul</text>
<text x="473.30" y="1222.60" font-size="9.8" fill="#6e6a67" text-anchor="middle" textLength="12.3" lengthAdjust="spacingAndGlyphs" >Jul</text>
<text x="554.30" y="1222.60" font-size="9.8" fill="#6e6a67" text-anchor="middle" textLength="12.3" lengthAdjust="spacingAndGlyphs" >Jul</text>
<text x="634.80" y="1222.60" font-size="9.8" fill="#6e6a67" text-anchor="middle" textLength="12.3" lengthAdjust="spacingAndGlyphs" >Jul</text>
<text x="715.50" y="1222.60" font-size="9.8" fill="#6e6a67" text-anchor="middle" textLength="12.3" lengthAdjust="spacingAndGlyphs" >Jul</text>
<text x="796.30" y="1222.60" font-size="9.8" fill="#6e6a67" text-anchor="middle" textLength="12.3" lengthAdjust="spacingAndGlyphs" >Jul</text>
<text x="877.00" y="1222.60" font-size="9.8" fill="#6e6a67" text-anchor="middle" textLength="12.3" lengthAdjust="spacingAndGlyphs" >Jul</text>
<text x="958.00" y="1222.60" font-size="9.8" fill="#6e6a67" text-anchor="middle" textLength="12.3" lengthAdjust="spacingAndGlyphs" >Jul</text>
<text x="1038.50" y="1222.60" font-size="9.8" fill="#6e6a67" text-anchor="middle" textLength="12.3" lengthAdjust="spacingAndGlyphs" >Jul</text>
<text x="1119.50" y="1222.60" font-size="9.8" fill="#6e6a67" text-anchor="middle" textLength="12.3" lengthAdjust="spacingAndGlyphs" >Jul</text>
</g>
<g transform="translate(9.7,1246.6) scale(0.68)" fill="#e8e8e8"><path d="M14 22H7V11H0V4h14v18zM28 22h-8l7.5-18h8L28 22z"/><circle cx="20" cy="8" r="4"/></g>
<text x="40.40" y="1261.20" font-size="16.6" fill="#e8e8e8" font-weight="bold" textLength="98.6" lengthAdjust="spacingAndGlyphs" >TradingView</text>
</svg>
</body></html>
